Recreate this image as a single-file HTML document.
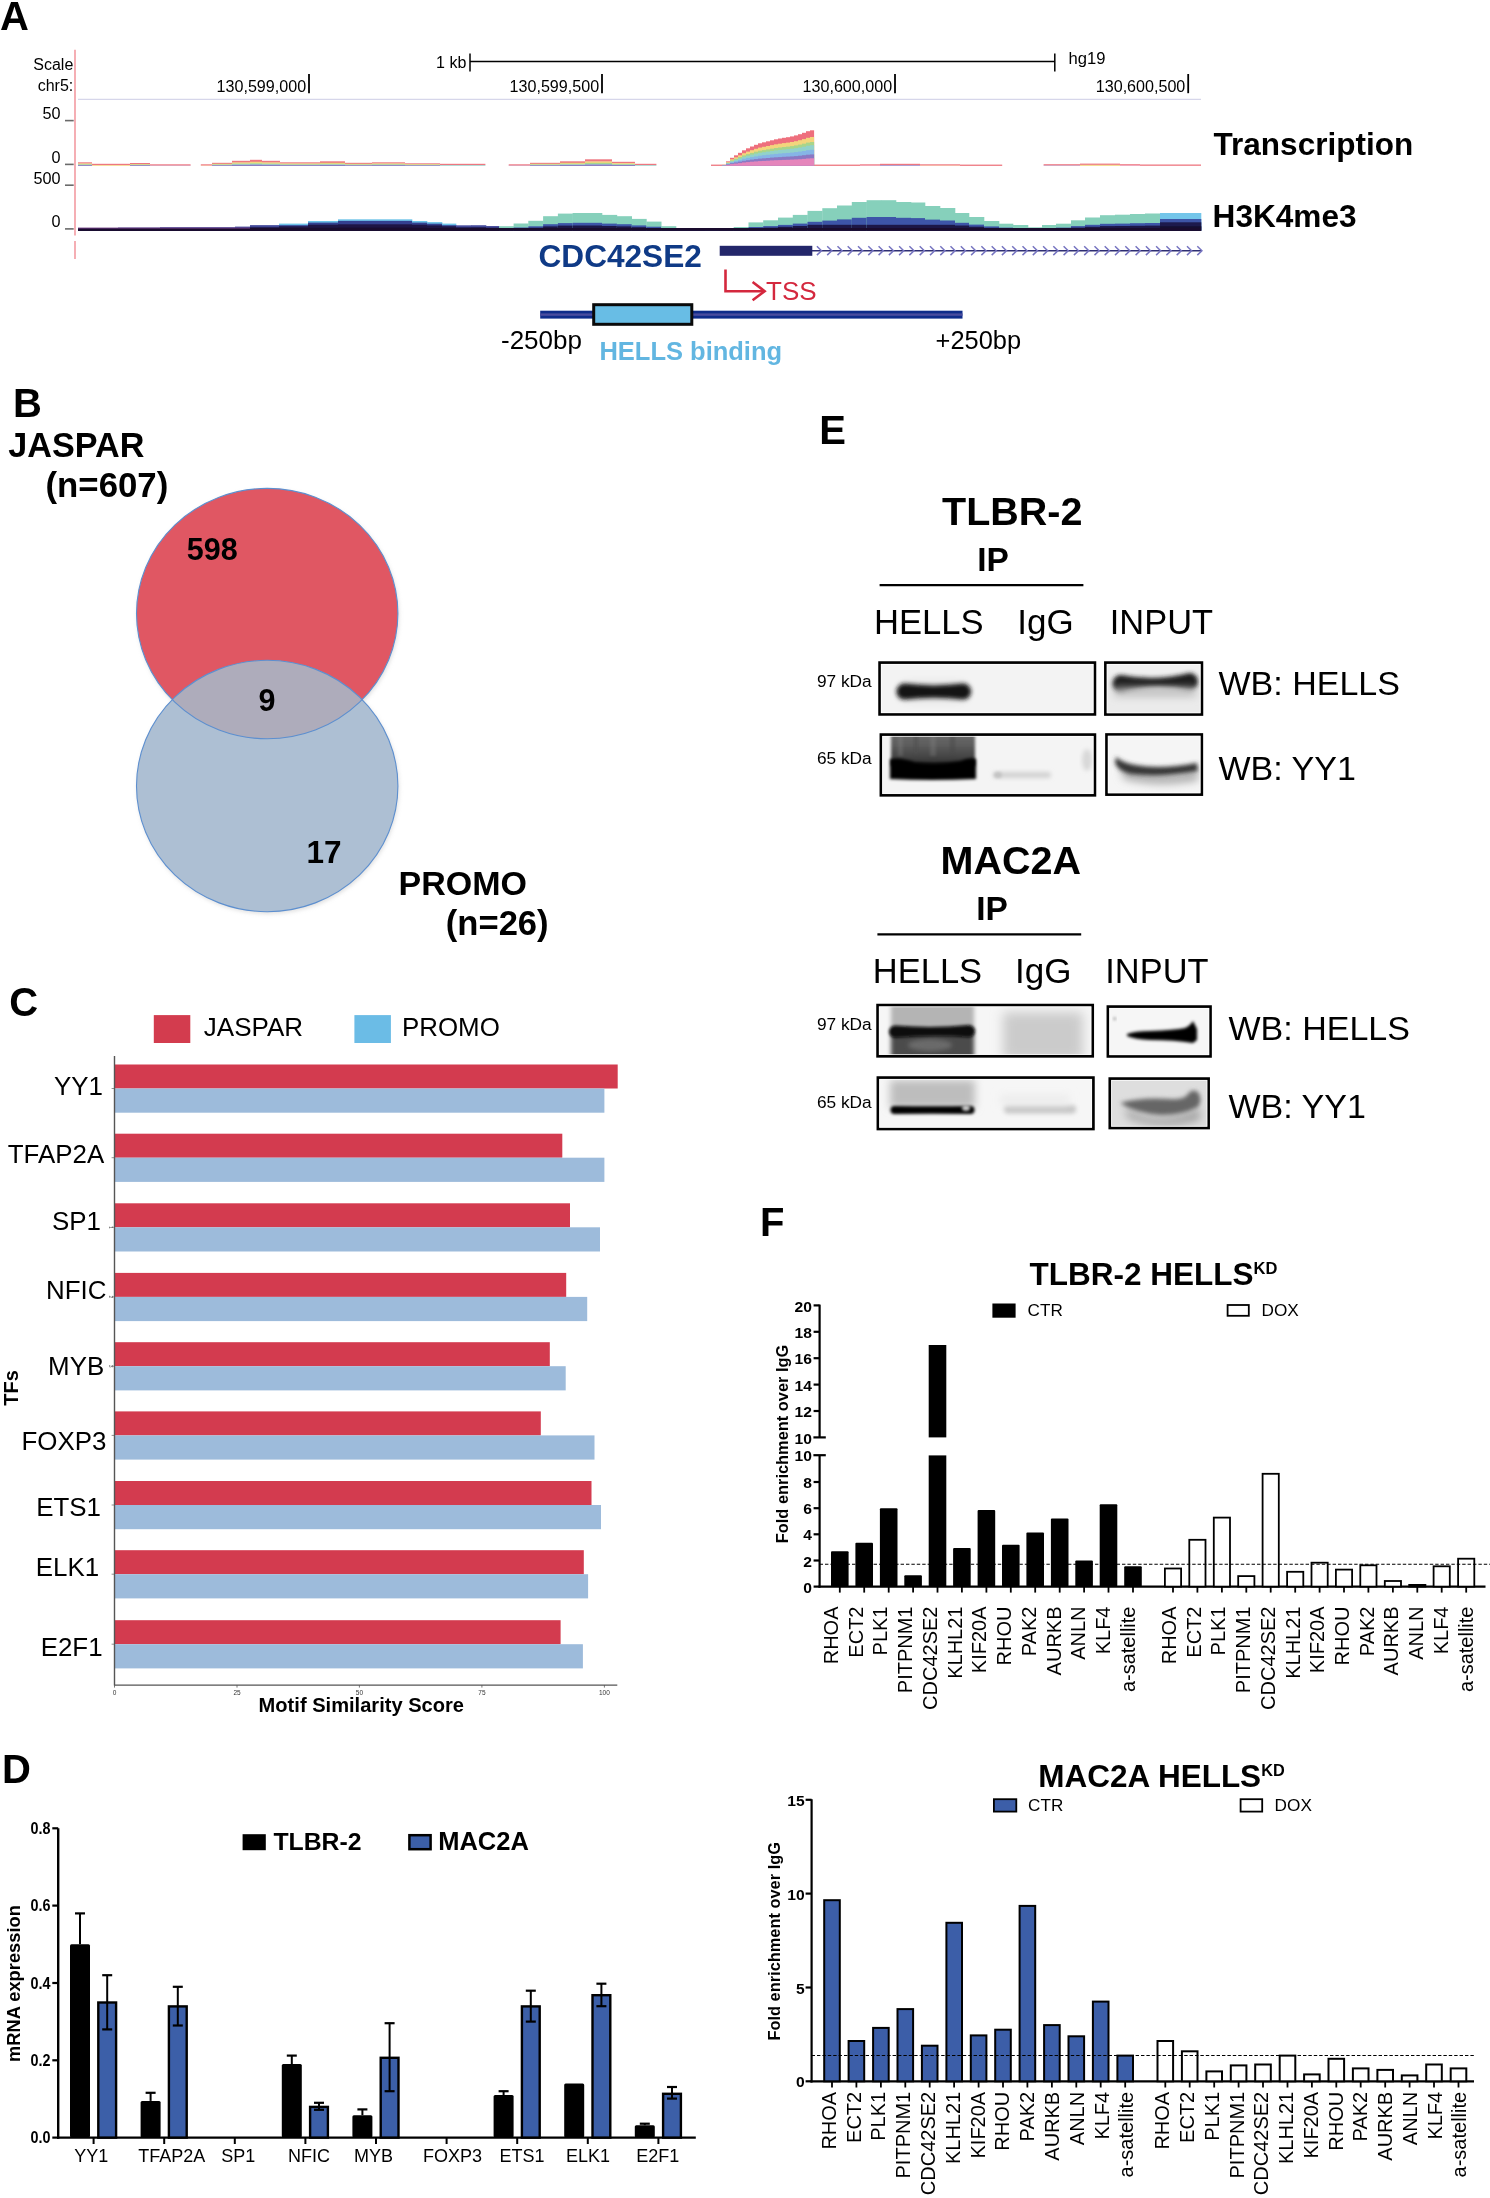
<!DOCTYPE html>
<html><head><meta charset="utf-8"><style>
html,body{margin:0;padding:0;background:#fff;}
svg{display:block;will-change:transform;}
text{font-family:"Liberation Sans",sans-serif;}
</style></head><body>
<svg width="1490" height="2198" viewBox="0 0 1490 2198">
<rect x="0" y="0" width="1490" height="2198" fill="#fff"/>
<text x="0.0" y="29.6" font-size="40" font-weight="bold" text-anchor="start" fill="#000" >A</text>
<line x1="75.0" y1="49.7" x2="75.0" y2="235.5" stroke="#f4a6ac" stroke-width="1.8" />
<line x1="75.0" y1="241.1" x2="75.0" y2="258.9" stroke="#f4a6ac" stroke-width="1.8" />
<text x="73.3" y="69.8" font-size="16" text-anchor="end" fill="#000" >Scale</text>
<text x="73.3" y="90.8" font-size="16" text-anchor="end" fill="#000" >chr5:</text>
<text x="466.3" y="67.7" font-size="16" text-anchor="end" fill="#000" >1 kb</text>
<line x1="470.0" y1="61.5" x2="1054.8" y2="61.5" stroke="#000" stroke-width="1.4" />
<line x1="470.0" y1="53.4" x2="470.0" y2="71.6" stroke="#000" stroke-width="1.5" />
<line x1="1054.8" y1="53.4" x2="1054.8" y2="71.6" stroke="#000" stroke-width="1.5" />
<text x="1068.6" y="64.2" font-size="16.6" text-anchor="start" fill="#000" >hg19</text>
<text x="306.1" y="91.8" font-size="16.1" text-anchor="end" fill="#000" >130,599,000</text>
<line x1="309.0" y1="74.0" x2="309.0" y2="93.2" stroke="#000" stroke-width="1.8" />
<text x="599.1" y="91.8" font-size="16.1" text-anchor="end" fill="#000" >130,599,500</text>
<line x1="602.0" y1="74.0" x2="602.0" y2="93.2" stroke="#000" stroke-width="1.8" />
<text x="892.1" y="91.8" font-size="16.1" text-anchor="end" fill="#000" >130,600,000</text>
<line x1="895.0" y1="74.0" x2="895.0" y2="93.2" stroke="#000" stroke-width="1.8" />
<text x="1185.3" y="91.8" font-size="16.1" text-anchor="end" fill="#000" >130,600,500</text>
<line x1="1188.2" y1="74.0" x2="1188.2" y2="93.2" stroke="#000" stroke-width="1.8" />
<line x1="78.0" y1="99.4" x2="1201.0" y2="99.4" stroke="#d6d6ea" stroke-width="1.3" />
<text x="60.6" y="119.3" font-size="16.2" text-anchor="end" fill="#000" >50</text>
<text x="60.6" y="162.9" font-size="16.2" text-anchor="end" fill="#000" >0</text>
<text x="60.6" y="183.7" font-size="16.2" text-anchor="end" fill="#000" >500</text>
<text x="60.6" y="227.0" font-size="16.2" text-anchor="end" fill="#000" >0</text>
<line x1="65.0" y1="120.6" x2="73.7" y2="120.6" stroke="#6a6a6a" stroke-width="1.6" />
<line x1="65.0" y1="164.4" x2="73.7" y2="164.4" stroke="#6a6a6a" stroke-width="1.6" />
<line x1="65.0" y1="185.2" x2="73.7" y2="185.2" stroke="#6a6a6a" stroke-width="1.6" />
<line x1="65.0" y1="228.9" x2="73.7" y2="228.9" stroke="#6a6a6a" stroke-width="1.6" />
<rect x="78.0" y="162.3" width="14.0" height="1.4" fill="#ee7780" />
<rect x="78.0" y="163.5" width="14.0" height="1.0" fill="#f1d67c" />
<rect x="78.0" y="164.3" width="14.0" height="0.7" fill="#a9d58a" />
<rect x="78.0" y="164.8" width="14.0" height="0.6" fill="#92d2ca" />
<rect x="78.0" y="165.1" width="14.0" height="0.9" fill="#8d7fc4" />
<rect x="92.0" y="163.8" width="38.0" height="1.3" fill="#ee7780" />
<rect x="92.0" y="165.1" width="38.0" height="0.7" fill="#f1d67c" />
<rect x="130.0" y="163.0" width="20.0" height="1.2" fill="#ee7780" />
<rect x="130.0" y="164.0" width="20.0" height="0.8" fill="#f1d67c" />
<rect x="130.0" y="164.6" width="20.0" height="0.6" fill="#a9d58a" />
<rect x="130.0" y="165.0" width="20.0" height="0.5" fill="#92d2ca" />
<rect x="130.0" y="165.2" width="20.0" height="0.8" fill="#8d7fc4" />
<rect x="150.0" y="164.3" width="40.6" height="1.3" fill="#ee7780" />
<rect x="150.0" y="165.6" width="40.6" height="0.2" fill="#8d7fc4" />
<rect x="200.8" y="164.3" width="11.2" height="1.3" fill="#ee7780" />
<rect x="200.8" y="165.6" width="11.2" height="0.2" fill="#f1d67c" />
<rect x="212.0" y="162.8" width="20.0" height="1.2" fill="#ee7780" />
<rect x="212.0" y="163.8" width="20.0" height="0.9" fill="#f1d67c" />
<rect x="212.0" y="164.5" width="20.0" height="0.6" fill="#a9d58a" />
<rect x="212.0" y="164.9" width="20.0" height="0.5" fill="#92d2ca" />
<rect x="212.0" y="165.2" width="20.0" height="0.8" fill="#8d7fc4" />
<rect x="232.0" y="160.8" width="18.0" height="1.9" fill="#ee7780" />
<rect x="232.0" y="162.5" width="18.0" height="1.3" fill="#f1d67c" />
<rect x="232.0" y="163.6" width="18.0" height="0.9" fill="#a9d58a" />
<rect x="232.0" y="164.3" width="18.0" height="0.7" fill="#92d2ca" />
<rect x="232.0" y="164.8" width="18.0" height="1.2" fill="#8d7fc4" />
<rect x="250.0" y="159.8" width="12.0" height="2.2" fill="#ee7780" />
<rect x="250.0" y="161.8" width="12.0" height="1.5" fill="#f1d67c" />
<rect x="250.0" y="163.2" width="12.0" height="1.0" fill="#a9d58a" />
<rect x="250.0" y="164.0" width="12.0" height="0.8" fill="#92d2ca" />
<rect x="250.0" y="164.6" width="12.0" height="1.4" fill="#8d7fc4" />
<rect x="262.0" y="160.8" width="18.0" height="1.9" fill="#ee7780" />
<rect x="262.0" y="162.5" width="18.0" height="1.3" fill="#f1d67c" />
<rect x="262.0" y="163.6" width="18.0" height="0.9" fill="#a9d58a" />
<rect x="262.0" y="164.3" width="18.0" height="0.7" fill="#92d2ca" />
<rect x="262.0" y="164.8" width="18.0" height="1.2" fill="#8d7fc4" />
<rect x="280.0" y="162.3" width="40.0" height="1.4" fill="#ee7780" />
<rect x="280.0" y="163.5" width="40.0" height="1.0" fill="#f1d67c" />
<rect x="280.0" y="164.3" width="40.0" height="0.7" fill="#a9d58a" />
<rect x="280.0" y="164.8" width="40.0" height="0.6" fill="#92d2ca" />
<rect x="280.0" y="165.1" width="40.0" height="0.9" fill="#8d7fc4" />
<rect x="320.0" y="161.3" width="25.0" height="1.7" fill="#ee7780" />
<rect x="320.0" y="162.8" width="25.0" height="1.2" fill="#f1d67c" />
<rect x="320.0" y="163.8" width="25.0" height="0.8" fill="#a9d58a" />
<rect x="320.0" y="164.5" width="25.0" height="0.7" fill="#92d2ca" />
<rect x="320.0" y="164.9" width="25.0" height="1.1" fill="#8d7fc4" />
<rect x="345.0" y="162.8" width="27.0" height="1.2" fill="#ee7780" />
<rect x="345.0" y="163.8" width="27.0" height="0.9" fill="#f1d67c" />
<rect x="345.0" y="164.5" width="27.0" height="0.6" fill="#a9d58a" />
<rect x="345.0" y="164.9" width="27.0" height="0.5" fill="#92d2ca" />
<rect x="345.0" y="165.2" width="27.0" height="0.8" fill="#8d7fc4" />
<rect x="372.0" y="162.3" width="33.0" height="1.4" fill="#ee7780" />
<rect x="372.0" y="163.5" width="33.0" height="1.0" fill="#f1d67c" />
<rect x="372.0" y="164.3" width="33.0" height="0.7" fill="#a9d58a" />
<rect x="372.0" y="164.8" width="33.0" height="0.6" fill="#92d2ca" />
<rect x="372.0" y="165.1" width="33.0" height="0.9" fill="#8d7fc4" />
<rect x="405.0" y="163.3" width="35.0" height="1.1" fill="#ee7780" />
<rect x="405.0" y="164.2" width="35.0" height="0.8" fill="#f1d67c" />
<rect x="405.0" y="164.7" width="35.0" height="0.6" fill="#a9d58a" />
<rect x="405.0" y="165.1" width="35.0" height="0.5" fill="#92d2ca" />
<rect x="405.0" y="165.3" width="35.0" height="0.7" fill="#8d7fc4" />
<rect x="440.0" y="163.8" width="45.4" height="1.3" fill="#ee7780" />
<rect x="440.0" y="165.1" width="45.4" height="0.7" fill="#92d2ca" />
<rect x="508.7" y="164.3" width="21.3" height="1.3" fill="#ee7780" />
<rect x="508.7" y="165.6" width="21.3" height="0.2" fill="#8d7fc4" />
<rect x="530.0" y="162.8" width="30.0" height="1.2" fill="#ee7780" />
<rect x="530.0" y="163.8" width="30.0" height="0.9" fill="#f1d67c" />
<rect x="530.0" y="164.5" width="30.0" height="0.6" fill="#a9d58a" />
<rect x="530.0" y="164.9" width="30.0" height="0.5" fill="#92d2ca" />
<rect x="530.0" y="165.2" width="30.0" height="0.8" fill="#8d7fc4" />
<rect x="560.0" y="161.3" width="25.0" height="1.7" fill="#ee7780" />
<rect x="560.0" y="162.8" width="25.0" height="1.2" fill="#f1d67c" />
<rect x="560.0" y="163.8" width="25.0" height="0.8" fill="#a9d58a" />
<rect x="560.0" y="164.5" width="25.0" height="0.7" fill="#92d2ca" />
<rect x="560.0" y="164.9" width="25.0" height="1.1" fill="#8d7fc4" />
<rect x="585.0" y="159.3" width="27.0" height="2.4" fill="#ee7780" />
<rect x="585.0" y="161.5" width="27.0" height="1.6" fill="#f1d67c" />
<rect x="585.0" y="162.9" width="27.0" height="1.1" fill="#a9d58a" />
<rect x="585.0" y="163.9" width="27.0" height="0.9" fill="#92d2ca" />
<rect x="585.0" y="164.5" width="27.0" height="1.5" fill="#8d7fc4" />
<rect x="612.0" y="161.8" width="23.0" height="1.6" fill="#ee7780" />
<rect x="612.0" y="163.2" width="23.0" height="1.1" fill="#f1d67c" />
<rect x="612.0" y="164.0" width="23.0" height="0.8" fill="#a9d58a" />
<rect x="612.0" y="164.6" width="23.0" height="0.6" fill="#92d2ca" />
<rect x="612.0" y="165.0" width="23.0" height="1.0" fill="#8d7fc4" />
<rect x="635.0" y="163.8" width="21.4" height="1.3" fill="#ee7780" />
<rect x="635.0" y="165.1" width="21.4" height="0.7" fill="#92d2ca" />
<rect x="711.0" y="164.6" width="11.0" height="1.3" fill="#ee7780" />
<rect x="814.0" y="164.6" width="46.0" height="1.3" fill="#ee7780" />
<rect x="860.0" y="164.3" width="20.0" height="1.3" fill="#ee7780" />
<rect x="860.0" y="165.6" width="20.0" height="0.2" fill="#e585bb" />
<rect x="880.0" y="163.8" width="40.0" height="1.3" fill="#ee7780" />
<rect x="880.0" y="165.1" width="40.0" height="0.7" fill="#8d7fc4" />
<rect x="920.0" y="164.3" width="40.0" height="1.3" fill="#ee7780" />
<rect x="920.0" y="165.6" width="40.0" height="0.2" fill="#f1d67c" />
<rect x="960.0" y="164.6" width="42.2" height="1.3" fill="#ee7780" />
<rect x="1043.6" y="164.2" width="36.4" height="1.3" fill="#ee7780" />
<rect x="1043.6" y="165.5" width="36.4" height="0.3" fill="#8d7fc4" />
<rect x="1080.0" y="163.6" width="40.0" height="1.3" fill="#ee7780" />
<rect x="1080.0" y="164.9" width="40.0" height="0.9" fill="#f1d67c" />
<rect x="1120.0" y="164.2" width="20.0" height="1.3" fill="#ee7780" />
<rect x="1120.0" y="165.5" width="20.0" height="0.3" fill="#e585bb" />
<rect x="1140.0" y="164.5" width="61.0" height="1.3" fill="#ee7780" />
<rect x="722.0" y="164.6" width="4.3" height="1.2" fill="#ee6f7d" />
<rect x="722.0" y="164.8" width="4.3" height="1.0" fill="#f3d57d" />
<rect x="722.0" y="165.0" width="4.3" height="0.8" fill="#a9d58a" />
<rect x="722.0" y="165.1" width="4.3" height="0.7" fill="#92d2ca" />
<rect x="722.0" y="165.3" width="4.3" height="0.5" fill="#86b5e6" />
<rect x="722.0" y="165.4" width="4.3" height="0.4" fill="#8b78c3" />
<rect x="722.0" y="165.5" width="4.3" height="0.3" fill="#e585bb" />
<rect x="726.0" y="161.3" width="4.3" height="4.5" fill="#ee6f7d" />
<rect x="726.0" y="162.2" width="4.3" height="3.6" fill="#f3d57d" />
<rect x="726.0" y="162.8" width="4.3" height="3.0" fill="#a9d58a" />
<rect x="726.0" y="163.2" width="4.3" height="2.6" fill="#92d2ca" />
<rect x="726.0" y="163.8" width="4.3" height="2.0" fill="#86b5e6" />
<rect x="726.0" y="164.4" width="4.3" height="1.4" fill="#8b78c3" />
<rect x="726.0" y="164.9" width="4.3" height="0.9" fill="#e585bb" />
<rect x="730.0" y="157.8" width="4.3" height="8.0" fill="#ee6f7d" />
<rect x="730.0" y="159.3" width="4.3" height="6.5" fill="#f3d57d" />
<rect x="730.0" y="160.4" width="4.3" height="5.4" fill="#a9d58a" />
<rect x="730.0" y="161.2" width="4.3" height="4.6" fill="#92d2ca" />
<rect x="730.0" y="162.2" width="4.3" height="3.6" fill="#86b5e6" />
<rect x="730.0" y="163.2" width="4.3" height="2.6" fill="#8b78c3" />
<rect x="730.0" y="164.1" width="4.3" height="1.7" fill="#e585bb" />
<rect x="734.0" y="155.3" width="4.3" height="10.5" fill="#ee6f7d" />
<rect x="734.0" y="157.3" width="4.3" height="8.5" fill="#f3d57d" />
<rect x="734.0" y="158.8" width="4.3" height="7.0" fill="#a9d58a" />
<rect x="734.0" y="159.7" width="4.3" height="6.1" fill="#92d2ca" />
<rect x="734.0" y="161.1" width="4.3" height="4.7" fill="#86b5e6" />
<rect x="734.0" y="162.4" width="4.3" height="3.4" fill="#8b78c3" />
<rect x="734.0" y="163.6" width="4.3" height="2.2" fill="#e585bb" />
<rect x="738.0" y="152.8" width="4.3" height="13.0" fill="#ee6f7d" />
<rect x="738.0" y="155.3" width="4.3" height="10.5" fill="#f3d57d" />
<rect x="738.0" y="157.1" width="4.3" height="8.7" fill="#a9d58a" />
<rect x="738.0" y="158.3" width="4.3" height="7.5" fill="#92d2ca" />
<rect x="738.0" y="160.0" width="4.3" height="5.8" fill="#86b5e6" />
<rect x="738.0" y="161.6" width="4.3" height="4.2" fill="#8b78c3" />
<rect x="738.0" y="163.1" width="4.3" height="2.7" fill="#e585bb" />
<rect x="742.0" y="150.3" width="4.3" height="15.5" fill="#ee6f7d" />
<rect x="742.0" y="153.2" width="4.3" height="12.6" fill="#f3d57d" />
<rect x="742.0" y="155.4" width="4.3" height="10.4" fill="#a9d58a" />
<rect x="742.0" y="156.8" width="4.3" height="9.0" fill="#92d2ca" />
<rect x="742.0" y="158.8" width="4.3" height="7.0" fill="#86b5e6" />
<rect x="742.0" y="160.8" width="4.3" height="5.0" fill="#8b78c3" />
<rect x="742.0" y="162.5" width="4.3" height="3.3" fill="#e585bb" />
<rect x="746.0" y="148.3" width="4.3" height="17.5" fill="#ee6f7d" />
<rect x="746.0" y="151.6" width="4.3" height="14.2" fill="#f3d57d" />
<rect x="746.0" y="154.1" width="4.3" height="11.7" fill="#a9d58a" />
<rect x="746.0" y="155.7" width="4.3" height="10.2" fill="#92d2ca" />
<rect x="746.0" y="157.9" width="4.3" height="7.9" fill="#86b5e6" />
<rect x="746.0" y="160.2" width="4.3" height="5.6" fill="#8b78c3" />
<rect x="746.0" y="162.1" width="4.3" height="3.7" fill="#e585bb" />
<rect x="750.0" y="146.5" width="4.3" height="19.3" fill="#ee6f7d" />
<rect x="750.0" y="150.2" width="4.3" height="15.6" fill="#f3d57d" />
<rect x="750.0" y="152.9" width="4.3" height="12.9" fill="#a9d58a" />
<rect x="750.0" y="154.6" width="4.3" height="11.2" fill="#92d2ca" />
<rect x="750.0" y="157.1" width="4.3" height="8.7" fill="#86b5e6" />
<rect x="750.0" y="159.6" width="4.3" height="6.2" fill="#8b78c3" />
<rect x="750.0" y="161.7" width="4.3" height="4.1" fill="#e585bb" />
<rect x="754.0" y="144.8" width="4.3" height="21.0" fill="#ee6f7d" />
<rect x="754.0" y="148.8" width="4.3" height="17.0" fill="#f3d57d" />
<rect x="754.0" y="151.7" width="4.3" height="14.1" fill="#a9d58a" />
<rect x="754.0" y="153.6" width="4.3" height="12.2" fill="#92d2ca" />
<rect x="754.0" y="156.4" width="4.3" height="9.4" fill="#86b5e6" />
<rect x="754.0" y="159.1" width="4.3" height="6.7" fill="#8b78c3" />
<rect x="754.0" y="161.4" width="4.3" height="4.4" fill="#e585bb" />
<rect x="758.0" y="143.3" width="4.3" height="22.5" fill="#ee6f7d" />
<rect x="758.0" y="147.6" width="4.3" height="18.2" fill="#f3d57d" />
<rect x="758.0" y="150.7" width="4.3" height="15.1" fill="#a9d58a" />
<rect x="758.0" y="152.8" width="4.3" height="13.1" fill="#92d2ca" />
<rect x="758.0" y="155.7" width="4.3" height="10.1" fill="#86b5e6" />
<rect x="758.0" y="158.6" width="4.3" height="7.2" fill="#8b78c3" />
<rect x="758.0" y="161.1" width="4.3" height="4.7" fill="#e585bb" />
<rect x="762.0" y="142.3" width="4.3" height="23.5" fill="#ee6f7d" />
<rect x="762.0" y="146.8" width="4.3" height="19.0" fill="#f3d57d" />
<rect x="762.0" y="150.1" width="4.3" height="15.7" fill="#a9d58a" />
<rect x="762.0" y="152.2" width="4.3" height="13.6" fill="#92d2ca" />
<rect x="762.0" y="155.2" width="4.3" height="10.6" fill="#86b5e6" />
<rect x="762.0" y="158.3" width="4.3" height="7.5" fill="#8b78c3" />
<rect x="762.0" y="160.9" width="4.3" height="4.9" fill="#e585bb" />
<rect x="766.0" y="141.3" width="4.3" height="24.5" fill="#ee6f7d" />
<rect x="766.0" y="146.0" width="4.3" height="19.8" fill="#f3d57d" />
<rect x="766.0" y="149.4" width="4.3" height="16.4" fill="#a9d58a" />
<rect x="766.0" y="151.6" width="4.3" height="14.2" fill="#92d2ca" />
<rect x="766.0" y="154.8" width="4.3" height="11.0" fill="#86b5e6" />
<rect x="766.0" y="158.0" width="4.3" height="7.8" fill="#8b78c3" />
<rect x="766.0" y="160.7" width="4.3" height="5.1" fill="#e585bb" />
<rect x="770.0" y="140.3" width="4.3" height="25.5" fill="#ee6f7d" />
<rect x="770.0" y="145.1" width="4.3" height="20.7" fill="#f3d57d" />
<rect x="770.0" y="148.7" width="4.3" height="17.1" fill="#a9d58a" />
<rect x="770.0" y="151.0" width="4.3" height="14.8" fill="#92d2ca" />
<rect x="770.0" y="154.3" width="4.3" height="11.5" fill="#86b5e6" />
<rect x="770.0" y="157.6" width="4.3" height="8.2" fill="#8b78c3" />
<rect x="770.0" y="160.4" width="4.3" height="5.4" fill="#e585bb" />
<rect x="774.0" y="139.3" width="4.3" height="26.5" fill="#ee6f7d" />
<rect x="774.0" y="144.3" width="4.3" height="21.5" fill="#f3d57d" />
<rect x="774.0" y="148.0" width="4.3" height="17.8" fill="#a9d58a" />
<rect x="774.0" y="150.4" width="4.3" height="15.4" fill="#92d2ca" />
<rect x="774.0" y="153.9" width="4.3" height="11.9" fill="#86b5e6" />
<rect x="774.0" y="157.3" width="4.3" height="8.5" fill="#8b78c3" />
<rect x="774.0" y="160.2" width="4.3" height="5.6" fill="#e585bb" />
<rect x="778.0" y="138.5" width="4.3" height="27.3" fill="#ee6f7d" />
<rect x="778.0" y="143.7" width="4.3" height="22.1" fill="#f3d57d" />
<rect x="778.0" y="147.5" width="4.3" height="18.3" fill="#a9d58a" />
<rect x="778.0" y="150.0" width="4.3" height="15.8" fill="#92d2ca" />
<rect x="778.0" y="153.5" width="4.3" height="12.3" fill="#86b5e6" />
<rect x="778.0" y="157.1" width="4.3" height="8.7" fill="#8b78c3" />
<rect x="778.0" y="160.1" width="4.3" height="5.7" fill="#e585bb" />
<rect x="782.0" y="137.8" width="4.3" height="28.0" fill="#ee6f7d" />
<rect x="782.0" y="143.1" width="4.3" height="22.7" fill="#f3d57d" />
<rect x="782.0" y="147.0" width="4.3" height="18.8" fill="#a9d58a" />
<rect x="782.0" y="149.6" width="4.3" height="16.2" fill="#92d2ca" />
<rect x="782.0" y="153.2" width="4.3" height="12.6" fill="#86b5e6" />
<rect x="782.0" y="156.8" width="4.3" height="9.0" fill="#8b78c3" />
<rect x="782.0" y="159.9" width="4.3" height="5.9" fill="#e585bb" />
<rect x="786.0" y="137.2" width="4.3" height="28.6" fill="#ee6f7d" />
<rect x="786.0" y="142.6" width="4.3" height="23.2" fill="#f3d57d" />
<rect x="786.0" y="146.6" width="4.3" height="19.2" fill="#a9d58a" />
<rect x="786.0" y="149.2" width="4.3" height="16.6" fill="#92d2ca" />
<rect x="786.0" y="152.9" width="4.3" height="12.9" fill="#86b5e6" />
<rect x="786.0" y="156.6" width="4.3" height="9.2" fill="#8b78c3" />
<rect x="786.0" y="159.8" width="4.3" height="6.0" fill="#e585bb" />
<rect x="790.0" y="136.4" width="4.3" height="29.4" fill="#ee6f7d" />
<rect x="790.0" y="142.0" width="4.3" height="23.8" fill="#f3d57d" />
<rect x="790.0" y="146.1" width="4.3" height="19.7" fill="#a9d58a" />
<rect x="790.0" y="148.7" width="4.3" height="17.1" fill="#92d2ca" />
<rect x="790.0" y="152.6" width="4.3" height="13.2" fill="#86b5e6" />
<rect x="790.0" y="156.4" width="4.3" height="9.4" fill="#8b78c3" />
<rect x="790.0" y="159.6" width="4.3" height="6.2" fill="#e585bb" />
<rect x="794.0" y="135.4" width="4.3" height="30.4" fill="#ee6f7d" />
<rect x="794.0" y="141.2" width="4.3" height="24.6" fill="#f3d57d" />
<rect x="794.0" y="145.4" width="4.3" height="20.4" fill="#a9d58a" />
<rect x="794.0" y="148.2" width="4.3" height="17.6" fill="#92d2ca" />
<rect x="794.0" y="152.1" width="4.3" height="13.7" fill="#86b5e6" />
<rect x="794.0" y="156.1" width="4.3" height="9.7" fill="#8b78c3" />
<rect x="794.0" y="159.4" width="4.3" height="6.4" fill="#e585bb" />
<rect x="798.0" y="134.2" width="4.3" height="31.6" fill="#ee6f7d" />
<rect x="798.0" y="140.2" width="4.3" height="25.6" fill="#f3d57d" />
<rect x="798.0" y="144.6" width="4.3" height="21.2" fill="#a9d58a" />
<rect x="798.0" y="147.5" width="4.3" height="18.3" fill="#92d2ca" />
<rect x="798.0" y="151.6" width="4.3" height="14.2" fill="#86b5e6" />
<rect x="798.0" y="155.7" width="4.3" height="10.1" fill="#8b78c3" />
<rect x="798.0" y="159.2" width="4.3" height="6.6" fill="#e585bb" />
<rect x="802.0" y="132.8" width="4.3" height="33.0" fill="#ee6f7d" />
<rect x="802.0" y="139.1" width="4.3" height="26.7" fill="#f3d57d" />
<rect x="802.0" y="143.7" width="4.3" height="22.1" fill="#a9d58a" />
<rect x="802.0" y="146.7" width="4.3" height="19.1" fill="#92d2ca" />
<rect x="802.0" y="151.0" width="4.3" height="14.8" fill="#86b5e6" />
<rect x="802.0" y="155.2" width="4.3" height="10.6" fill="#8b78c3" />
<rect x="802.0" y="158.9" width="4.3" height="6.9" fill="#e585bb" />
<rect x="806.0" y="131.2" width="4.3" height="34.6" fill="#ee6f7d" />
<rect x="806.0" y="137.8" width="4.3" height="28.0" fill="#f3d57d" />
<rect x="806.0" y="142.6" width="4.3" height="23.2" fill="#a9d58a" />
<rect x="806.0" y="145.7" width="4.3" height="20.1" fill="#92d2ca" />
<rect x="806.0" y="150.2" width="4.3" height="15.6" fill="#86b5e6" />
<rect x="806.0" y="154.7" width="4.3" height="11.1" fill="#8b78c3" />
<rect x="806.0" y="158.5" width="4.3" height="7.3" fill="#e585bb" />
<rect x="810.0" y="130.3" width="4.1" height="35.5" fill="#ee6f7d" />
<rect x="810.0" y="137.0" width="4.1" height="28.8" fill="#f3d57d" />
<rect x="810.0" y="142.0" width="4.1" height="23.8" fill="#a9d58a" />
<rect x="810.0" y="145.2" width="4.1" height="20.6" fill="#92d2ca" />
<rect x="810.0" y="149.8" width="4.1" height="16.0" fill="#86b5e6" />
<rect x="810.0" y="154.4" width="4.1" height="11.4" fill="#8b78c3" />
<rect x="810.0" y="158.3" width="4.1" height="7.5" fill="#e585bb" />
<rect x="78.0" y="228.6" width="40.3" height="2.2" fill="#4a4f9e" />
<rect x="78.0" y="229.3" width="40.3" height="1.5" fill="#34408f" />
<rect x="78.0" y="229.4" width="40.3" height="1.4" fill="#1e1544" />
<rect x="78.0" y="230.1" width="40.3" height="0.7" fill="#140d30" />
<rect x="118.0" y="227.6" width="42.3" height="3.2" fill="#4a4f9e" />
<rect x="118.0" y="228.6" width="42.3" height="2.2" fill="#34408f" />
<rect x="118.0" y="228.8" width="42.3" height="2.0" fill="#1e1544" />
<rect x="118.0" y="229.8" width="42.3" height="1.0" fill="#140d30" />
<rect x="160.0" y="227.2" width="75.3" height="3.6" fill="#4a4f9e" />
<rect x="160.0" y="228.3" width="75.3" height="2.5" fill="#34408f" />
<rect x="160.0" y="228.6" width="75.3" height="2.2" fill="#1e1544" />
<rect x="160.0" y="229.7" width="75.3" height="1.1" fill="#140d30" />
<rect x="235.0" y="226.6" width="15.3" height="4.2" fill="#4a4f9e" />
<rect x="235.0" y="227.9" width="15.3" height="2.9" fill="#34408f" />
<rect x="235.0" y="228.2" width="15.3" height="2.6" fill="#1e1544" />
<rect x="235.0" y="229.5" width="15.3" height="1.3" fill="#140d30" />
<rect x="250.0" y="225.1" width="29.3" height="5.7" fill="#4a4f9e" />
<rect x="250.0" y="226.7" width="29.3" height="4.1" fill="#34408f" />
<rect x="250.0" y="227.3" width="29.3" height="3.5" fill="#1e1544" />
<rect x="250.0" y="229.0" width="29.3" height="1.8" fill="#140d30" />
<rect x="279.0" y="223.6" width="29.3" height="7.2" fill="#6ec3e8" />
<rect x="279.0" y="225.2" width="29.3" height="5.6" fill="#34408f" />
<rect x="279.0" y="226.3" width="29.3" height="4.5" fill="#1e1544" />
<rect x="279.0" y="228.6" width="29.3" height="2.2" fill="#140d30" />
<rect x="308.0" y="221.0" width="30.3" height="9.8" fill="#6ec3e8" />
<rect x="308.0" y="222.6" width="30.3" height="8.2" fill="#34408f" />
<rect x="308.0" y="224.7" width="30.3" height="6.1" fill="#1e1544" />
<rect x="308.0" y="227.8" width="30.3" height="3.0" fill="#140d30" />
<rect x="338.0" y="219.3" width="74.3" height="11.5" fill="#6ec3e8" />
<rect x="338.0" y="220.9" width="74.3" height="9.9" fill="#34408f" />
<rect x="338.0" y="224.3" width="74.3" height="6.5" fill="#1e1544" />
<rect x="338.0" y="227.6" width="74.3" height="3.2" fill="#140d30" />
<rect x="412.0" y="221.0" width="15.3" height="9.8" fill="#6ec3e8" />
<rect x="412.0" y="222.6" width="15.3" height="8.2" fill="#34408f" />
<rect x="412.0" y="224.7" width="15.3" height="6.1" fill="#1e1544" />
<rect x="412.0" y="227.8" width="15.3" height="3.0" fill="#140d30" />
<rect x="427.0" y="222.1" width="15.3" height="8.7" fill="#6ec3e8" />
<rect x="427.0" y="223.7" width="15.3" height="7.1" fill="#34408f" />
<rect x="427.0" y="225.4" width="15.3" height="5.4" fill="#1e1544" />
<rect x="427.0" y="228.1" width="15.3" height="2.7" fill="#140d30" />
<rect x="442.0" y="223.6" width="14.3" height="7.2" fill="#6ec3e8" />
<rect x="442.0" y="225.2" width="14.3" height="5.6" fill="#34408f" />
<rect x="442.0" y="226.3" width="14.3" height="4.5" fill="#1e1544" />
<rect x="442.0" y="228.6" width="14.3" height="2.2" fill="#140d30" />
<rect x="456.0" y="225.3" width="15.3" height="5.5" fill="#4a4f9e" />
<rect x="456.0" y="226.9" width="15.3" height="3.9" fill="#34408f" />
<rect x="456.0" y="227.4" width="15.3" height="3.4" fill="#1e1544" />
<rect x="456.0" y="229.1" width="15.3" height="1.7" fill="#140d30" />
<rect x="471.0" y="225.2" width="15.3" height="5.6" fill="#4a4f9e" />
<rect x="471.0" y="226.8" width="15.3" height="4.0" fill="#34408f" />
<rect x="471.0" y="227.3" width="15.3" height="3.5" fill="#1e1544" />
<rect x="471.0" y="229.1" width="15.3" height="1.7" fill="#140d30" />
<rect x="486.0" y="226.0" width="13.3" height="4.8" fill="#4a4f9e" />
<rect x="486.0" y="227.4" width="13.3" height="3.4" fill="#34408f" />
<rect x="486.0" y="227.8" width="13.3" height="3.0" fill="#1e1544" />
<rect x="486.0" y="229.3" width="13.3" height="1.5" fill="#140d30" />
<rect x="499.0" y="226.2" width="14.9" height="4.6" fill="#86d0bb" />
<rect x="499.0" y="228.7" width="14.9" height="2.1" fill="#3d55a8" />
<rect x="499.0" y="229.4" width="14.9" height="1.4" fill="#1c1747" />
<rect x="513.6" y="223.5" width="15.0" height="7.3" fill="#86d0bb" />
<rect x="513.6" y="227.5" width="15.0" height="3.3" fill="#3d55a8" />
<rect x="513.6" y="228.6" width="15.0" height="2.2" fill="#1c1747" />
<rect x="528.3" y="220.8" width="15.1" height="10.0" fill="#86d0bb" />
<rect x="528.3" y="226.3" width="15.1" height="4.5" fill="#3d55a8" />
<rect x="528.3" y="227.8" width="15.1" height="3.0" fill="#1c1747" />
<rect x="543.1" y="216.2" width="15.1" height="14.6" fill="#86d0bb" />
<rect x="543.1" y="224.2" width="15.1" height="6.6" fill="#3d55a8" />
<rect x="543.1" y="226.4" width="15.1" height="4.4" fill="#1c1747" />
<rect x="557.9" y="213.6" width="15.0" height="17.2" fill="#86d0bb" />
<rect x="557.9" y="223.1" width="15.0" height="7.7" fill="#3d55a8" />
<rect x="557.9" y="225.6" width="15.0" height="5.2" fill="#1c1747" />
<rect x="572.6" y="213.0" width="14.7" height="17.8" fill="#86d0bb" />
<rect x="572.6" y="222.8" width="14.7" height="8.0" fill="#3d55a8" />
<rect x="572.6" y="225.5" width="14.7" height="5.3" fill="#1c1747" />
<rect x="587.0" y="213.0" width="15.3" height="17.8" fill="#86d0bb" />
<rect x="587.0" y="222.8" width="15.3" height="8.0" fill="#3d55a8" />
<rect x="587.0" y="225.5" width="15.3" height="5.3" fill="#1c1747" />
<rect x="602.0" y="214.9" width="15.2" height="15.9" fill="#86d0bb" />
<rect x="602.0" y="223.6" width="15.2" height="7.2" fill="#3d55a8" />
<rect x="602.0" y="226.0" width="15.2" height="4.8" fill="#1c1747" />
<rect x="616.9" y="216.2" width="15.1" height="14.6" fill="#86d0bb" />
<rect x="616.9" y="224.2" width="15.1" height="6.6" fill="#3d55a8" />
<rect x="616.9" y="226.4" width="15.1" height="4.4" fill="#1c1747" />
<rect x="631.7" y="218.9" width="15.0" height="11.9" fill="#86d0bb" />
<rect x="631.7" y="225.4" width="15.0" height="5.4" fill="#3d55a8" />
<rect x="631.7" y="227.2" width="15.0" height="3.6" fill="#1c1747" />
<rect x="646.4" y="221.6" width="15.1" height="9.2" fill="#86d0bb" />
<rect x="646.4" y="226.7" width="15.1" height="4.1" fill="#3d55a8" />
<rect x="646.4" y="228.0" width="15.1" height="2.8" fill="#1c1747" />
<rect x="661.2" y="226.2" width="15.1" height="4.6" fill="#86d0bb" />
<rect x="661.2" y="228.7" width="15.1" height="2.1" fill="#3d55a8" />
<rect x="661.2" y="229.4" width="15.1" height="1.4" fill="#1c1747" />
<rect x="676.0" y="228.3" width="29.3" height="2.5" fill="#86d0bb" />
<rect x="676.0" y="229.7" width="29.3" height="1.1" fill="#3d55a8" />
<rect x="676.0" y="230.1" width="29.3" height="0.8" fill="#1c1747" />
<rect x="705.0" y="228.6" width="14.3" height="2.2" fill="#86d0bb" />
<rect x="705.0" y="229.8" width="14.3" height="1.0" fill="#3d55a8" />
<rect x="705.0" y="230.1" width="14.3" height="0.7" fill="#1c1747" />
<rect x="719.0" y="228.3" width="15.0" height="2.5" fill="#86d0bb" />
<rect x="719.0" y="229.7" width="15.0" height="1.1" fill="#3d55a8" />
<rect x="719.0" y="230.1" width="15.0" height="0.8" fill="#1c1747" />
<rect x="733.7" y="227.0" width="15.1" height="3.8" fill="#86d0bb" />
<rect x="733.7" y="229.1" width="15.1" height="1.7" fill="#3d55a8" />
<rect x="733.7" y="229.7" width="15.1" height="1.1" fill="#1c1747" />
<rect x="748.5" y="222.4" width="15.0" height="8.4" fill="#86d0bb" />
<rect x="748.5" y="227.0" width="15.0" height="3.8" fill="#3d55a8" />
<rect x="748.5" y="228.3" width="15.0" height="2.5" fill="#1c1747" />
<rect x="763.2" y="220.3" width="15.1" height="10.5" fill="#86d0bb" />
<rect x="763.2" y="226.1" width="15.1" height="4.7" fill="#3d55a8" />
<rect x="763.2" y="227.7" width="15.1" height="3.1" fill="#1c1747" />
<rect x="778.0" y="217.6" width="15.1" height="13.2" fill="#86d0bb" />
<rect x="778.0" y="224.9" width="15.1" height="5.9" fill="#3d55a8" />
<rect x="778.0" y="226.8" width="15.1" height="4.0" fill="#1c1747" />
<rect x="792.8" y="214.9" width="15.0" height="15.9" fill="#86d0bb" />
<rect x="792.8" y="223.6" width="15.0" height="7.2" fill="#3d55a8" />
<rect x="792.8" y="226.0" width="15.0" height="4.8" fill="#1c1747" />
<rect x="807.5" y="210.9" width="15.1" height="19.9" fill="#86d0bb" />
<rect x="807.5" y="221.8" width="15.1" height="9.0" fill="#3d55a8" />
<rect x="807.5" y="224.8" width="15.1" height="6.0" fill="#1c1747" />
<rect x="822.3" y="208.2" width="15.0" height="22.6" fill="#86d0bb" />
<rect x="822.3" y="220.6" width="15.0" height="10.2" fill="#3d55a8" />
<rect x="822.3" y="224.8" width="15.0" height="6.0" fill="#1c1747" />
<rect x="837.0" y="205.5" width="15.1" height="25.3" fill="#86d0bb" />
<rect x="837.0" y="219.4" width="15.1" height="11.4" fill="#3d55a8" />
<rect x="837.0" y="224.8" width="15.1" height="6.0" fill="#1c1747" />
<rect x="851.8" y="202.0" width="15.1" height="28.8" fill="#86d0bb" />
<rect x="851.8" y="217.8" width="15.1" height="13.0" fill="#3d55a8" />
<rect x="851.8" y="224.8" width="15.1" height="6.0" fill="#1c1747" />
<rect x="866.6" y="200.2" width="14.7" height="30.6" fill="#86d0bb" />
<rect x="866.6" y="217.0" width="14.7" height="13.8" fill="#3d55a8" />
<rect x="866.6" y="224.8" width="14.7" height="6.0" fill="#1c1747" />
<rect x="881.0" y="200.2" width="15.3" height="30.6" fill="#86d0bb" />
<rect x="881.0" y="217.0" width="15.3" height="13.8" fill="#3d55a8" />
<rect x="881.0" y="224.8" width="15.3" height="6.0" fill="#1c1747" />
<rect x="896.0" y="202.0" width="15.3" height="28.8" fill="#86d0bb" />
<rect x="896.0" y="217.8" width="15.3" height="13.0" fill="#3d55a8" />
<rect x="896.0" y="224.8" width="15.3" height="6.0" fill="#1c1747" />
<rect x="911.0" y="202.5" width="14.3" height="28.3" fill="#86d0bb" />
<rect x="911.0" y="218.1" width="14.3" height="12.7" fill="#3d55a8" />
<rect x="911.0" y="224.8" width="14.3" height="6.0" fill="#1c1747" />
<rect x="925.0" y="206.0" width="15.3" height="24.8" fill="#86d0bb" />
<rect x="925.0" y="219.6" width="15.3" height="11.2" fill="#3d55a8" />
<rect x="925.0" y="224.8" width="15.3" height="6.0" fill="#1c1747" />
<rect x="940.0" y="208.0" width="15.3" height="22.8" fill="#86d0bb" />
<rect x="940.0" y="220.5" width="15.3" height="10.3" fill="#3d55a8" />
<rect x="940.0" y="224.8" width="15.3" height="6.0" fill="#1c1747" />
<rect x="955.0" y="213.0" width="14.3" height="17.8" fill="#86d0bb" />
<rect x="955.0" y="222.8" width="14.3" height="8.0" fill="#3d55a8" />
<rect x="955.0" y="225.5" width="14.3" height="5.3" fill="#1c1747" />
<rect x="969.0" y="217.0" width="15.3" height="13.8" fill="#86d0bb" />
<rect x="969.0" y="224.6" width="15.3" height="6.2" fill="#3d55a8" />
<rect x="969.0" y="226.7" width="15.3" height="4.1" fill="#1c1747" />
<rect x="984.0" y="221.0" width="15.3" height="9.8" fill="#86d0bb" />
<rect x="984.0" y="226.4" width="15.3" height="4.4" fill="#3d55a8" />
<rect x="984.0" y="227.9" width="15.3" height="2.9" fill="#1c1747" />
<rect x="999.0" y="223.7" width="14.3" height="7.1" fill="#86d0bb" />
<rect x="999.0" y="227.6" width="14.3" height="3.2" fill="#3d55a8" />
<rect x="999.0" y="228.7" width="14.3" height="2.1" fill="#1c1747" />
<rect x="1013.0" y="225.0" width="15.3" height="5.8" fill="#86d0bb" />
<rect x="1013.0" y="228.2" width="15.3" height="2.6" fill="#3d55a8" />
<rect x="1013.0" y="229.1" width="15.3" height="1.7" fill="#1c1747" />
<rect x="1028.0" y="227.3" width="14.3" height="3.5" fill="#86d0bb" />
<rect x="1028.0" y="229.2" width="14.3" height="1.6" fill="#3d55a8" />
<rect x="1028.0" y="229.8" width="14.3" height="1.1" fill="#1c1747" />
<rect x="1042.0" y="225.0" width="14.3" height="5.8" fill="#86d0bb" />
<rect x="1042.0" y="228.2" width="14.3" height="2.6" fill="#3d55a8" />
<rect x="1042.0" y="229.1" width="14.3" height="1.7" fill="#1c1747" />
<rect x="1056.0" y="223.7" width="15.3" height="7.1" fill="#86d0bb" />
<rect x="1056.0" y="227.6" width="15.3" height="3.2" fill="#3d55a8" />
<rect x="1056.0" y="228.7" width="15.3" height="2.1" fill="#1c1747" />
<rect x="1071.0" y="220.3" width="14.3" height="10.5" fill="#86d0bb" />
<rect x="1071.0" y="226.1" width="14.3" height="4.7" fill="#3d55a8" />
<rect x="1071.0" y="227.7" width="14.3" height="3.1" fill="#1c1747" />
<rect x="1085.0" y="217.5" width="15.3" height="13.3" fill="#86d0bb" />
<rect x="1085.0" y="224.8" width="15.3" height="6.0" fill="#3d55a8" />
<rect x="1085.0" y="226.8" width="15.3" height="4.0" fill="#1c1747" />
<rect x="1100.0" y="215.2" width="15.3" height="15.6" fill="#86d0bb" />
<rect x="1100.0" y="223.8" width="15.3" height="7.0" fill="#3d55a8" />
<rect x="1100.0" y="226.1" width="15.3" height="4.7" fill="#1c1747" />
<rect x="1115.0" y="214.7" width="15.3" height="16.1" fill="#86d0bb" />
<rect x="1115.0" y="223.6" width="15.3" height="7.2" fill="#3d55a8" />
<rect x="1115.0" y="226.0" width="15.3" height="4.8" fill="#1c1747" />
<rect x="1130.0" y="214.0" width="15.3" height="16.8" fill="#86d0bb" />
<rect x="1130.0" y="223.2" width="15.3" height="7.6" fill="#3d55a8" />
<rect x="1130.0" y="225.8" width="15.3" height="5.0" fill="#1c1747" />
<rect x="1145.0" y="213.5" width="15.3" height="17.3" fill="#86d0bb" />
<rect x="1145.0" y="223.0" width="15.3" height="7.8" fill="#3d55a8" />
<rect x="1145.0" y="225.6" width="15.3" height="5.2" fill="#1c1747" />
<rect x="1160.0" y="213.0" width="41.3" height="17.8" fill="#74c6ea" />
<rect x="1160.0" y="219.0" width="41.3" height="11.8" fill="#3e55a6" />
<rect x="1160.0" y="222.3" width="41.3" height="8.5" fill="#1d1a4c" />
<rect x="1160.0" y="226.3" width="41.3" height="4.5" fill="#150f30" />
<rect x="78.0" y="228.0" width="1123.0" height="2.8" fill="#1a0c2e" />
<rect x="78.0" y="227.6" width="172.0" height="1.0" fill="#6a3a80" />
<rect x="719.7" y="245.8" width="92.6" height="10.0" fill="#23266a" />
<line x1="812.0" y1="250.7" x2="1201.0" y2="250.7" stroke="#2e2e72" stroke-width="1.6" />
<path d="M816.9,246.3 L821.5,250.7 L816.9,255.1 M827.2,246.3 L831.8,250.7 L827.2,255.1 M837.5,246.3 L842.1,250.7 L837.5,255.1 M847.7,246.3 L852.3,250.7 L847.7,255.1 M858.0,246.3 L862.6,250.7 L858.0,255.1 M868.3,246.3 L872.9,250.7 L868.3,255.1 M878.6,246.3 L883.2,250.7 L878.6,255.1 M888.9,246.3 L893.5,250.7 L888.9,255.1 M899.1,246.3 L903.7,250.7 L899.1,255.1 M909.4,246.3 L914.0,250.7 L909.4,255.1 M919.7,246.3 L924.3,250.7 L919.7,255.1 M930.0,246.3 L934.6,250.7 L930.0,255.1 M940.3,246.3 L944.9,250.7 L940.3,255.1 M950.5,246.3 L955.1,250.7 L950.5,255.1 M960.8,246.3 L965.4,250.7 L960.8,255.1 M971.1,246.3 L975.7,250.7 L971.1,255.1 M981.4,246.3 L986.0,250.7 L981.4,255.1 M991.7,246.3 L996.3,250.7 L991.7,255.1 M1001.9,246.3 L1006.5,250.7 L1001.9,255.1 M1012.2,246.3 L1016.8,250.7 L1012.2,255.1 M1022.5,246.3 L1027.1,250.7 L1022.5,255.1 M1032.8,246.3 L1037.4,250.7 L1032.8,255.1 M1043.1,246.3 L1047.7,250.7 L1043.1,255.1 M1053.3,246.3 L1057.9,250.7 L1053.3,255.1 M1063.6,246.3 L1068.2,250.7 L1063.6,255.1 M1073.9,246.3 L1078.5,250.7 L1073.9,255.1 M1084.2,246.3 L1088.8,250.7 L1084.2,255.1 M1094.5,246.3 L1099.1,250.7 L1094.5,255.1 M1104.7,246.3 L1109.3,250.7 L1104.7,255.1 M1115.0,246.3 L1119.6,250.7 L1115.0,255.1 M1125.3,246.3 L1129.9,250.7 L1125.3,255.1 M1135.6,246.3 L1140.2,250.7 L1135.6,255.1 M1145.9,246.3 L1150.5,250.7 L1145.9,255.1 M1156.1,246.3 L1160.7,250.7 L1156.1,255.1 M1166.4,246.3 L1171.0,250.7 L1166.4,255.1 M1176.7,246.3 L1181.3,250.7 L1176.7,255.1 M1187.0,246.3 L1191.6,250.7 L1187.0,255.1 M1197.3,246.3 L1201.9,250.7 L1197.3,255.1" fill="none" stroke="#7674c0" stroke-width="1.5"/>
<text x="538.5" y="266.9" font-size="31.6" font-weight="bold" text-anchor="start" fill="#0f3a86" >CDC42SE2</text>
<path d="M725.5,269.6 L725.5,291.2 L763,291.2" fill="none" stroke="#d4283e" stroke-width="2.6"/>
<path d="M752.6,282 L764.6,291.2 L752.6,300.2" fill="none" stroke="#d4283e" stroke-width="2.6"/>
<text x="766.0" y="300.1" font-size="26" text-anchor="start" fill="#d4283e" >TSS</text>
<rect x="540.2" y="310.7" width="422.3" height="7.9" fill="#0f2c8a" />
<rect x="540.2" y="313.4" width="422.3" height="2.4" fill="#4a4c9e" />
<rect x="593.7" y="304.7" width="98.1" height="19.6" fill="#68bde5" stroke="#0a0a0a" stroke-width="3"/>
<text x="501.0" y="349.2" font-size="26" text-anchor="start" fill="#000" >-250bp</text>
<text x="935.6" y="349.2" font-size="25.4" text-anchor="start" fill="#000" >+250bp</text>
<text x="599.4" y="360.0" font-size="25.5" font-weight="bold" text-anchor="start" fill="#62b6e1" >HELLS binding</text>
<text x="1213.6" y="154.9" font-size="31.5" font-weight="bold" text-anchor="start" fill="#000" >Transcription</text>
<text x="1212.6" y="227.4" font-size="31.6" font-weight="bold" text-anchor="start" fill="#000" >H3K4me3</text>
<text x="12.9" y="416.9" font-size="40" font-weight="bold" text-anchor="start" fill="#000" >B</text>
<text x="8.2" y="457.0" font-size="34.2" font-weight="bold" text-anchor="start" fill="#000" >JASPAR</text>
<text x="45.5" y="497.2" font-size="34.8" font-weight="bold" text-anchor="start" fill="#000" >(n=607)</text>
<defs><filter id="vshadow" x="-10%" y="-10%" width="120%" height="120%"><feGaussianBlur stdDeviation="2.2"/></filter><clipPath id="redclip"><ellipse cx="267.2" cy="613.6" rx="130.7" ry="125.2"/></clipPath></defs>
<ellipse cx="268.2" cy="615.6" rx="130.7" ry="125.2" fill="#bbb" opacity="0.5" filter="url(#vshadow)"/>
<ellipse cx="268.2" cy="788" rx="130.7" ry="125.7" fill="#bbb" opacity="0.5" filter="url(#vshadow)"/>
<ellipse cx="267.2" cy="613.6" rx="130.7" ry="125.2" fill="#e05763"/>
<ellipse cx="267.2" cy="786" rx="130.7" ry="125.7" fill="#adbfd3"/>
<ellipse cx="267.2" cy="786" rx="130.7" ry="125.7" fill="#aeacbb" clip-path="url(#redclip)"/>
<ellipse cx="267.2" cy="613.6" rx="130.7" ry="125.2" fill="none" stroke="#5d8fcf" stroke-width="1.1"/>
<ellipse cx="267.2" cy="786" rx="130.7" ry="125.7" fill="none" stroke="#5d8fcf" stroke-width="1.1"/>
<text x="186.8" y="559.6" font-size="30.5" font-weight="bold" text-anchor="start" fill="#000" >598</text>
<text x="258.5" y="710.7" font-size="30.5" font-weight="bold" text-anchor="start" fill="#000" >9</text>
<text x="306.5" y="862.9" font-size="31.5" font-weight="bold" text-anchor="start" fill="#000" >17</text>
<text x="398.6" y="894.8" font-size="34" font-weight="bold" text-anchor="start" fill="#000" >PROMO</text>
<text x="445.8" y="935.4" font-size="34.6" font-weight="bold" text-anchor="start" fill="#000" >(n=26)</text>
<text x="9.3" y="1015.9" font-size="40" font-weight="bold" text-anchor="start" fill="#000" >C</text>
<rect x="153.8" y="1015.1" width="36.5" height="27.9" fill="#d33c4e" />
<text x="203.8" y="1035.7" font-size="26" text-anchor="start" fill="#000" >JASPAR</text>
<rect x="354.4" y="1015.1" width="36.5" height="27.9" fill="#6bbce6" />
<text x="402.0" y="1035.7" font-size="25.9" text-anchor="start" fill="#000" >PROMO</text>
<rect x="114.8" y="1064.5" width="502.9" height="24.0" fill="#d33b4f" />
<rect x="114.8" y="1088.5" width="489.6" height="24.2" fill="#9dbbdb" />
<text x="103.0" y="1095.4" font-size="25.9" text-anchor="end" fill="#000" >YY1</text>
<line x1="111.6" y1="1088.5" x2="114.4" y2="1088.5" stroke="#777" stroke-width="0.8" />
<rect x="114.8" y="1133.7" width="447.5" height="24.0" fill="#d33b4f" />
<rect x="114.8" y="1157.7" width="489.6" height="24.2" fill="#9dbbdb" />
<text x="104.2" y="1163.3" font-size="25.9" text-anchor="end" fill="#000" >TFAP2A</text>
<line x1="111.6" y1="1157.7" x2="114.4" y2="1157.7" stroke="#777" stroke-width="0.8" />
<rect x="114.8" y="1203.3" width="455.2" height="24.0" fill="#d33b4f" />
<rect x="114.8" y="1227.3" width="485.2" height="24.2" fill="#9dbbdb" />
<text x="100.9" y="1229.9" font-size="25.9" text-anchor="end" fill="#000" >SP1</text>
<line x1="111.6" y1="1227.3" x2="114.4" y2="1227.3" stroke="#777" stroke-width="0.8" />
<text transform="translate(108.6,1227.3) rotate(90)" font-size="5" text-anchor="middle" fill="#555">1</text>
<rect x="114.8" y="1272.9" width="451.4" height="24.0" fill="#d33b4f" />
<rect x="114.8" y="1296.9" width="472.4" height="24.2" fill="#9dbbdb" />
<text x="106.4" y="1298.6" font-size="25.9" text-anchor="end" fill="#000" >NFIC</text>
<line x1="111.6" y1="1296.9" x2="114.4" y2="1296.9" stroke="#777" stroke-width="0.8" />
<text transform="translate(108.6,1296.9) rotate(90)" font-size="5" text-anchor="middle" fill="#555">2</text>
<rect x="114.8" y="1342.2" width="435.0" height="24.0" fill="#d33b4f" />
<rect x="114.8" y="1366.2" width="450.9" height="24.2" fill="#9dbbdb" />
<text x="104.2" y="1374.5" font-size="25.9" text-anchor="end" fill="#000" >MYB</text>
<line x1="111.6" y1="1366.2" x2="114.4" y2="1366.2" stroke="#777" stroke-width="0.8" />
<text transform="translate(108.6,1366.2) rotate(90)" font-size="5" text-anchor="middle" fill="#555">3</text>
<rect x="114.8" y="1411.4" width="426.0" height="24.0" fill="#d33b4f" />
<rect x="114.8" y="1435.4" width="479.7" height="24.2" fill="#9dbbdb" />
<text x="106.4" y="1449.7" font-size="25.9" text-anchor="end" fill="#000" >FOXP3</text>
<line x1="111.6" y1="1435.4" x2="114.4" y2="1435.4" stroke="#777" stroke-width="0.8" />
<rect x="114.8" y="1481.0" width="476.7" height="24.0" fill="#d33b4f" />
<rect x="114.8" y="1505.0" width="486.2" height="24.2" fill="#9dbbdb" />
<text x="100.9" y="1516.3" font-size="25.9" text-anchor="end" fill="#000" >ETS1</text>
<line x1="111.6" y1="1505.0" x2="114.4" y2="1505.0" stroke="#777" stroke-width="0.8" />
<rect x="114.8" y="1550.2" width="469.0" height="24.0" fill="#d33b4f" />
<rect x="114.8" y="1574.2" width="473.3" height="24.2" fill="#9dbbdb" />
<text x="99.2" y="1576.4" font-size="25.9" text-anchor="end" fill="#000" >ELK1</text>
<line x1="111.6" y1="1574.2" x2="114.4" y2="1574.2" stroke="#777" stroke-width="0.8" />
<rect x="114.8" y="1620.2" width="445.8" height="24.0" fill="#d33b4f" />
<rect x="114.8" y="1644.2" width="468.1" height="24.2" fill="#9dbbdb" />
<text x="102.6" y="1655.9" font-size="25.9" text-anchor="end" fill="#000" >E2F1</text>
<line x1="111.6" y1="1644.2" x2="114.4" y2="1644.2" stroke="#777" stroke-width="0.8" />
<line x1="114.5" y1="1055.9" x2="114.5" y2="1685.6" stroke="#555" stroke-width="1.4" />
<line x1="114.5" y1="1685.1" x2="617.3" y2="1685.1" stroke="#555" stroke-width="1.4" />
<line x1="114.5" y1="1685.1" x2="114.5" y2="1687.6" stroke="#555" stroke-width="0.8" />
<text x="114.5" y="1695.4" font-size="6.5" text-anchor="middle" fill="#333" >0</text>
<line x1="237.0" y1="1685.1" x2="237.0" y2="1687.6" stroke="#555" stroke-width="0.8" />
<text x="237.0" y="1695.4" font-size="6.5" text-anchor="middle" fill="#333" >25</text>
<line x1="359.4" y1="1685.1" x2="359.4" y2="1687.6" stroke="#555" stroke-width="0.8" />
<text x="359.4" y="1695.4" font-size="6.5" text-anchor="middle" fill="#333" >50</text>
<line x1="481.9" y1="1685.1" x2="481.9" y2="1687.6" stroke="#555" stroke-width="0.8" />
<text x="481.9" y="1695.4" font-size="6.5" text-anchor="middle" fill="#333" >75</text>
<line x1="604.4" y1="1685.1" x2="604.4" y2="1687.6" stroke="#555" stroke-width="0.8" />
<text x="604.4" y="1695.4" font-size="6.5" text-anchor="middle" fill="#333" >100</text>
<text x="258.6" y="1711.7" font-size="20.1" font-weight="bold" text-anchor="start" fill="#000" >Motif Similarity Score</text>
<text transform="translate(17.9,1388.0) rotate(-90)" font-size="20" font-weight="bold" text-anchor="middle" fill="#000" >TFs</text>
<text x="2.1" y="1783.1" font-size="40" font-weight="bold" text-anchor="start" fill="#000" >D</text>
<line x1="58.2" y1="1828.2" x2="58.2" y2="2138.8" stroke="#000" stroke-width="2.4" />
<line x1="57.0" y1="2137.6" x2="695.8" y2="2137.6" stroke="#000" stroke-width="2.4" />
<line x1="52.3" y1="1828.3" x2="58.2" y2="1828.3" stroke="#000" stroke-width="2.2" />
<text x="50.6" y="1834.1" font-size="15.6" font-weight="bold" text-anchor="end" textLength="20" lengthAdjust="spacingAndGlyphs">0.8</text>
<line x1="52.3" y1="1905.6" x2="58.2" y2="1905.6" stroke="#000" stroke-width="2.2" />
<text x="50.6" y="1911.4" font-size="15.6" font-weight="bold" text-anchor="end" textLength="20" lengthAdjust="spacingAndGlyphs">0.6</text>
<line x1="52.3" y1="1983.0" x2="58.2" y2="1983.0" stroke="#000" stroke-width="2.2" />
<text x="50.6" y="1988.8" font-size="15.6" font-weight="bold" text-anchor="end" textLength="20" lengthAdjust="spacingAndGlyphs">0.4</text>
<line x1="52.3" y1="2060.3" x2="58.2" y2="2060.3" stroke="#000" stroke-width="2.2" />
<text x="50.6" y="2066.1" font-size="15.6" font-weight="bold" text-anchor="end" textLength="20" lengthAdjust="spacingAndGlyphs">0.2</text>
<line x1="52.3" y1="2137.6" x2="58.2" y2="2137.6" stroke="#000" stroke-width="2.2" />
<text x="50.6" y="2143.4" font-size="15.6" font-weight="bold" text-anchor="end" textLength="20" lengthAdjust="spacingAndGlyphs">0.0</text>
<text transform="translate(20.4,1983.6) rotate(-90)" font-size="18.3" font-weight="bold" text-anchor="middle" fill="#000" >mRNA expression</text>
<rect x="243.4" y="1835.0" width="21.6" height="14.4" fill="#000" stroke="#000" stroke-width="1.6"/>
<text x="273.4" y="1850.2" font-size="24.8" font-weight="bold" text-anchor="start" fill="#000" >TLBR-2</text>
<rect x="409.4" y="1835.2" width="21.2" height="14.0" fill="#3c5fa8" stroke="#000" stroke-width="2.5"/>
<text x="438.2" y="1850.2" font-size="25.5" font-weight="bold" text-anchor="start" fill="#000" >MAC2A</text>
<line x1="93.6" y1="2137.6" x2="93.6" y2="2144.0" stroke="#000" stroke-width="2" />
<text x="91.2" y="2162.1" font-size="18" text-anchor="middle" fill="#000" >YY1</text>
<line x1="80.0" y1="1913.4" x2="80.0" y2="1944.3" stroke="#000" stroke-width="2" />
<line x1="75.0" y1="1913.4" x2="85.0" y2="1913.4" stroke="#000" stroke-width="2.2" />
<rect x="70.0" y="1944.3" width="20" height="193.3" fill="#000" rx="1.5"/>
<rect x="98.3" y="2002.5" width="17.8" height="135.1" fill="#3c5fa8" stroke="#000" stroke-width="2.4"/>
<line x1="107.2" y1="1975.2" x2="107.2" y2="2029.4" stroke="#000" stroke-width="2" />
<line x1="102.2" y1="1975.2" x2="112.2" y2="1975.2" stroke="#000" stroke-width="2.2" />
<line x1="102.2" y1="2029.4" x2="112.2" y2="2029.4" stroke="#000" stroke-width="2.2" />
<line x1="164.2" y1="2137.6" x2="164.2" y2="2144.0" stroke="#000" stroke-width="2" />
<text x="171.7" y="2162.1" font-size="18" text-anchor="middle" fill="#000" >TFAP2A</text>
<line x1="150.6" y1="2092.8" x2="150.6" y2="2100.9" stroke="#000" stroke-width="2" />
<line x1="145.6" y1="2092.8" x2="155.6" y2="2092.8" stroke="#000" stroke-width="2.2" />
<rect x="140.6" y="2100.9" width="20" height="36.7" fill="#000" rx="1.5"/>
<rect x="168.9" y="2006.4" width="17.8" height="131.2" fill="#3c5fa8" stroke="#000" stroke-width="2.4"/>
<line x1="177.8" y1="1986.8" x2="177.8" y2="2025.5" stroke="#000" stroke-width="2" />
<line x1="172.8" y1="1986.8" x2="182.8" y2="1986.8" stroke="#000" stroke-width="2.2" />
<line x1="172.8" y1="2025.5" x2="182.8" y2="2025.5" stroke="#000" stroke-width="2.2" />
<line x1="234.8" y1="2137.6" x2="234.8" y2="2144.0" stroke="#000" stroke-width="2" />
<text x="238.2" y="2162.1" font-size="18" text-anchor="middle" fill="#000" >SP1</text>
<line x1="305.4" y1="2137.6" x2="305.4" y2="2144.0" stroke="#000" stroke-width="2" />
<text x="308.9" y="2162.1" font-size="18" text-anchor="middle" fill="#000" >NFIC</text>
<line x1="291.8" y1="2055.6" x2="291.8" y2="2064.1" stroke="#000" stroke-width="2" />
<line x1="286.8" y1="2055.6" x2="296.8" y2="2055.6" stroke="#000" stroke-width="2.2" />
<rect x="281.8" y="2064.1" width="20" height="73.5" fill="#000" rx="1.5"/>
<rect x="310.1" y="2106.9" width="17.8" height="30.7" fill="#3c5fa8" stroke="#000" stroke-width="2.4"/>
<line x1="319.0" y1="2102.8" x2="319.0" y2="2109.8" stroke="#000" stroke-width="2" />
<line x1="314.0" y1="2102.8" x2="324.0" y2="2102.8" stroke="#000" stroke-width="2.2" />
<line x1="314.0" y1="2109.8" x2="324.0" y2="2109.8" stroke="#000" stroke-width="2.2" />
<line x1="376.0" y1="2137.6" x2="376.0" y2="2144.0" stroke="#000" stroke-width="2" />
<text x="373.5" y="2162.1" font-size="18" text-anchor="middle" fill="#000" >MYB</text>
<line x1="362.4" y1="2109.4" x2="362.4" y2="2115.2" stroke="#000" stroke-width="2" />
<line x1="357.4" y1="2109.4" x2="367.4" y2="2109.4" stroke="#000" stroke-width="2.2" />
<rect x="352.4" y="2115.2" width="20" height="22.4" fill="#000" rx="1.5"/>
<rect x="380.7" y="2057.8" width="17.8" height="79.8" fill="#3c5fa8" stroke="#000" stroke-width="2.4"/>
<line x1="389.6" y1="2023.2" x2="389.6" y2="2091.2" stroke="#000" stroke-width="2" />
<line x1="384.6" y1="2023.2" x2="394.6" y2="2023.2" stroke="#000" stroke-width="2.2" />
<line x1="384.6" y1="2091.2" x2="394.6" y2="2091.2" stroke="#000" stroke-width="2.2" />
<line x1="446.6" y1="2137.6" x2="446.6" y2="2144.0" stroke="#000" stroke-width="2" />
<text x="452.6" y="2162.1" font-size="18" text-anchor="middle" fill="#000" >FOXP3</text>
<line x1="517.2" y1="2137.6" x2="517.2" y2="2144.0" stroke="#000" stroke-width="2" />
<text x="521.9" y="2162.1" font-size="18" text-anchor="middle" fill="#000" >ETS1</text>
<line x1="503.6" y1="2091.2" x2="503.6" y2="2095.1" stroke="#000" stroke-width="2" />
<line x1="498.6" y1="2091.2" x2="508.6" y2="2091.2" stroke="#000" stroke-width="2.2" />
<rect x="493.6" y="2095.1" width="20" height="42.5" fill="#000" rx="1.5"/>
<rect x="521.9" y="2006.4" width="17.8" height="131.2" fill="#3c5fa8" stroke="#000" stroke-width="2.4"/>
<line x1="530.8" y1="1990.7" x2="530.8" y2="2021.6" stroke="#000" stroke-width="2" />
<line x1="525.8" y1="1990.7" x2="535.8" y2="1990.7" stroke="#000" stroke-width="2.2" />
<line x1="525.8" y1="2021.6" x2="535.8" y2="2021.6" stroke="#000" stroke-width="2.2" />
<line x1="587.8" y1="2137.6" x2="587.8" y2="2144.0" stroke="#000" stroke-width="2" />
<text x="588.0" y="2162.1" font-size="18" text-anchor="middle" fill="#000" >ELK1</text>
<rect x="564.2" y="2083.5" width="20" height="54.1" fill="#000" rx="1.5"/>
<rect x="592.5" y="1995.2" width="17.8" height="142.4" fill="#3c5fa8" stroke="#000" stroke-width="2.4"/>
<line x1="601.4" y1="1983.7" x2="601.4" y2="2006.2" stroke="#000" stroke-width="2" />
<line x1="596.4" y1="1983.7" x2="606.4" y2="1983.7" stroke="#000" stroke-width="2.2" />
<line x1="596.4" y1="2006.2" x2="606.4" y2="2006.2" stroke="#000" stroke-width="2.2" />
<line x1="658.4" y1="2137.6" x2="658.4" y2="2144.0" stroke="#000" stroke-width="2" />
<text x="657.8" y="2162.1" font-size="18" text-anchor="middle" fill="#000" >E2F1</text>
<line x1="644.8" y1="2123.7" x2="644.8" y2="2125.2" stroke="#000" stroke-width="2" />
<line x1="639.8" y1="2123.7" x2="649.8" y2="2123.7" stroke="#000" stroke-width="2.2" />
<rect x="634.8" y="2125.2" width="20" height="12.4" fill="#000" rx="1.5"/>
<rect x="663.1" y="2093.8" width="17.8" height="43.8" fill="#3c5fa8" stroke="#000" stroke-width="2.4"/>
<line x1="672.0" y1="2087.0" x2="672.0" y2="2098.6" stroke="#000" stroke-width="2" />
<line x1="667.0" y1="2087.0" x2="677.0" y2="2087.0" stroke="#000" stroke-width="2.2" />
<line x1="667.0" y1="2098.6" x2="677.0" y2="2098.6" stroke="#000" stroke-width="2.2" />
<defs><filter id="b1" x="-30%" y="-150%" width="160%" height="400%"><feGaussianBlur stdDeviation="1.5"/></filter><filter id="b2" x="-30%" y="-150%" width="160%" height="400%"><feGaussianBlur stdDeviation="2.3"/></filter><filter id="b3" x="-30%" y="-150%" width="160%" height="400%"><feGaussianBlur stdDeviation="4"/></filter><filter id="b4" x="-30%" y="-150%" width="160%" height="400%"><feGaussianBlur stdDeviation="6"/></filter></defs>
<text x="819.2" y="443.6" font-size="40" font-weight="bold" text-anchor="start" fill="#000" >E</text>
<text x="942.0" y="525.3" font-size="39.5" font-weight="bold" text-anchor="start" fill="#000" >TLBR-2</text>
<text x="977.2" y="570.5" font-size="33.5" font-weight="bold" text-anchor="start" fill="#000" >IP</text>
<line x1="879.6" y1="585.1" x2="1083.4" y2="585.1" stroke="#000" stroke-width="2.2" />
<text x="874.0" y="633.8" font-size="34.6" text-anchor="start" fill="#000" >HELLS</text>
<text x="1017.2" y="633.8" font-size="35" text-anchor="start" fill="#000" >IgG</text>
<text x="1109.8" y="633.8" font-size="34.4" text-anchor="start" fill="#000" >INPUT</text>
<text x="871.7" y="687.0" font-size="17.3" text-anchor="end" fill="#000" >97 kDa</text>
<text x="871.7" y="764.0" font-size="17.3" text-anchor="end" fill="#000" >65 kDa</text>
<text x="1218.5" y="694.5" font-size="34" text-anchor="start" fill="#000" >WB: HELLS</text>
<text x="1218.5" y="780.0" font-size="34" text-anchor="start" fill="#000" >WB: YY1</text>
<defs><clipPath id="cb1"><rect x="879.6" y="662.7" width="215.2" height="51.7"/></clipPath></defs>
<g clip-path="url(#cb1)"><rect x="878.2" y="661.3" width="218.0" height="54.5" fill="#f3f3f3"/><path d="M904.5,683.6 Q933.8,687.2 963.0,683.6 A8,8 0 0 1 963.0,699.6 Q933.8,696.0 904.5,699.6 A8,8 0 0 1 904.5,683.6 Z" fill="#181818" filter="url(#b2)"/><rect x="898" y="682" width="72" height="20" rx="9" fill="#000" opacity="0.08" filter="url(#b3)"/></g>
<rect x="879.6" y="662.6" width="215.3" height="51.8" fill="none" stroke="#000" stroke-width="2.7"/>
<rect x="881.3" y="664.4" width="211.8" height="48.3" fill="none" stroke="#fff" stroke-width="0.9" opacity="0.8"/>
<defs><clipPath id="cb2"><rect x="1105.5" y="662.7" width="96.4" height="51.8"/></clipPath></defs>
<g clip-path="url(#cb2)"><rect x="1104.1" y="661.3" width="99.2" height="54.6" fill="#ebebeb"/><rect x="1104" y="661" width="100" height="14" fill="#f1f1f1" filter="url(#b3)"/><path d="M1121.0,675.0 Q1155.2,681.8 1189.5,673.0 A8.5,8.5 0 0 1 1189.5,690.0 Q1155.2,683.2 1121.0,692.0 A8.5,8.5 0 0 1 1121.0,675.0 Z" fill="#1d1d1d" filter="url(#b2)"/><rect x="1114" y="688" width="82" height="8" fill="#b8b8b8" filter="url(#b3)"/></g>
<rect x="1105.4" y="662.6" width="96.5" height="51.9" fill="none" stroke="#000" stroke-width="2.7"/>
<rect x="1107.2" y="664.4" width="93.0" height="48.4" fill="none" stroke="#fff" stroke-width="0.9" opacity="0.8"/>
<defs><linearGradient id="smear3" x1="0" y1="0" x2="0" y2="1"><stop offset="0" stop-color="#7c7c7c"/><stop offset="0.55" stop-color="#5a5a5a"/><stop offset="1" stop-color="#303030"/></linearGradient></defs>
<defs><clipPath id="cb3"><rect x="880.9" y="734.7" width="213.9" height="60.6"/></clipPath></defs>
<g clip-path="url(#cb3)"><rect x="879.5" y="733.3" width="216.7" height="63.4" fill="#f4f4f4"/><rect x="891" y="722" width="84" height="44" fill="url(#smear3)" filter="url(#b1)"/><rect x="898" y="730" width="5" height="26" fill="#8a8a8a" opacity="0.3" filter="url(#b1)"/><rect x="914" y="730" width="4" height="24" fill="#505050" opacity="0.6" filter="url(#b1)"/><rect x="930" y="730" width="6" height="26" fill="#888" opacity="0.3" filter="url(#b1)"/><rect x="950" y="730" width="5" height="24" fill="#4a4a4a" opacity="0.5" filter="url(#b1)"/><path d="M890,759 Q900,757 915,762 Q940,764 960,761 Q970,757 976,759 L976,779 Q930,781 890,779 Z" fill="#030303" filter="url(#b1)"/><rect x="993" y="772" width="58" height="6" rx="3" fill="#d2d2d2" filter="url(#b2)"/><ellipse cx="998" cy="775" rx="4" ry="3" fill="#c2c2c2" filter="url(#b1)"/><ellipse cx="1087" cy="760" rx="5" ry="11" fill="#d8d8d8" filter="url(#b2)"/></g>
<rect x="880.9" y="734.6" width="214.0" height="60.7" fill="none" stroke="#000" stroke-width="2.7"/>
<rect x="882.6" y="736.4" width="210.5" height="57.2" fill="none" stroke="#fff" stroke-width="0.9" opacity="0.8"/>
<defs><clipPath id="cb4"><rect x="1106.6" y="734.5" width="95.2" height="60.0"/></clipPath></defs>
<g clip-path="url(#cb4)"><rect x="1105.2" y="733.1" width="98.0" height="62.8" fill="#f5f5f5"/><path d="M1120,768 Q1160,780 1198,770 L1198,780 Q1160,788 1124,779 Z" fill="#a8a8a8" filter="url(#b3)"/><path d="M1116,757 Q1123,763 1135,765 Q1160,770 1197,763 L1198,771 Q1160,778 1130,774 Q1118,771 1115,763 Z" fill="#363636" filter="url(#b2)"/></g>
<rect x="1106.5" y="734.5" width="95.3" height="60.1" fill="none" stroke="#000" stroke-width="2.7"/>
<rect x="1108.3" y="736.2" width="91.8" height="56.6" fill="none" stroke="#fff" stroke-width="0.9" opacity="0.8"/>
<text x="940.5" y="874.0" font-size="39.5" font-weight="bold" text-anchor="start" fill="#000" >MAC2A</text>
<text x="976.2" y="919.6" font-size="33.5" font-weight="bold" text-anchor="start" fill="#000" >IP</text>
<line x1="877.4" y1="934.3" x2="1081.2" y2="934.3" stroke="#000" stroke-width="2.2" />
<text x="872.8" y="982.5" font-size="34.5" text-anchor="start" fill="#000" >HELLS</text>
<text x="1015.0" y="982.5" font-size="35" text-anchor="start" fill="#000" >IgG</text>
<text x="1105.3" y="982.5" font-size="34.4" text-anchor="start" fill="#000" >INPUT</text>
<text x="871.7" y="1030.4" font-size="17.3" text-anchor="end" fill="#000" >97 kDa</text>
<text x="871.7" y="1107.9" font-size="17.3" text-anchor="end" fill="#000" >65 kDa</text>
<text x="1228.5" y="1040.1" font-size="34" text-anchor="start" fill="#000" >WB: HELLS</text>
<text x="1228.5" y="1118.0" font-size="34" text-anchor="start" fill="#000" >WB: YY1</text>
<defs><clipPath id="cb5"><rect x="877.6" y="1005.1" width="215.0" height="51.1"/></clipPath></defs>
<g clip-path="url(#cb5)"><rect x="876.2" y="1003.7" width="217.8" height="53.9" fill="#f6f6f6"/><rect x="891" y="1000" width="83" height="32" fill="#b4b4b4" filter="url(#b2)"/><rect x="891" y="1032" width="83" height="28" fill="#4c4c4c" filter="url(#b2)"/><ellipse cx="930" cy="1045" rx="22" ry="6" fill="#6a6a6a" filter="url(#b2)"/><path d="M895.2,1025.4 Q932.0,1028.6 968.8,1024.9 A6.2,6.2 0 0 1 968.8,1037.3 Q932.0,1034.6 895.2,1037.8 A6.2,6.2 0 0 1 895.2,1025.4 Z" fill="#080808" filter="url(#b1)"/><rect x="1003" y="1012" width="80" height="48" fill="#cbcbcb" filter="url(#b4)"/></g>
<rect x="877.6" y="1005.1" width="215.1" height="51.2" fill="none" stroke="#000" stroke-width="2.7"/>
<rect x="879.3" y="1006.8" width="211.6" height="47.7" fill="none" stroke="#fff" stroke-width="0.9" opacity="0.8"/>
<defs><clipPath id="cb6"><rect x="1108.0" y="1006.7" width="102.5" height="49.7"/></clipPath></defs>
<g clip-path="url(#cb6)"><rect x="1106.6" y="1005.3" width="105.3" height="52.5" fill="#f6f6f6"/><path d="M1127,1034 Q1135,1031 1150,1031 Q1175,1030 1185,1028 Q1190,1026 1193,1021 L1197,1029 L1197,1040 L1193,1043 Q1175,1040 1150,1040 Q1135,1039.5 1127,1036 Z" fill="#000" filter="url(#b1)"/><circle cx="1114.7" cy="1018.8" r="1.2" fill="#777" filter="url(#b1)"/></g>
<rect x="1107.9" y="1006.6" width="102.6" height="49.8" fill="none" stroke="#000" stroke-width="2.7"/>
<rect x="1109.7" y="1008.4" width="99.1" height="46.3" fill="none" stroke="#fff" stroke-width="0.9" opacity="0.8"/>
<defs><clipPath id="cb7"><rect x="877.9" y="1077.7" width="215.4" height="51.3"/></clipPath></defs>
<g clip-path="url(#cb7)"><rect x="876.5" y="1076.3" width="218.2" height="54.1" fill="#f6f6f6"/><rect x="890" y="1080" width="85" height="28" fill="#bdbdbd" filter="url(#b3)"/><path d="M894.5,1106.0 Q932.5,1106.6 970.5,1106.0 A4,4 0 0 1 970.5,1114.0 Q932.5,1113.4 894.5,1114.0 A4,4 0 0 1 894.5,1106.0 Z" fill="#020202" filter="url(#b1)"/><ellipse cx="966" cy="1108" rx="4" ry="3" fill="#c8c8c8" filter="url(#b1)"/><rect x="1004" y="1105" width="72" height="8.5" rx="4" fill="#c6c6c6" filter="url(#b2)"/><rect x="1000" y="1095" width="70" height="10" fill="#ececec" filter="url(#b3)"/></g>
<rect x="877.9" y="1077.6" width="215.5" height="51.4" fill="none" stroke="#000" stroke-width="2.7"/>
<rect x="879.6" y="1079.4" width="212.0" height="47.9" fill="none" stroke="#fff" stroke-width="0.9" opacity="0.8"/>
<defs><clipPath id="cb8"><rect x="1109.9" y="1078.7" width="98.7" height="49.3"/></clipPath></defs>
<g clip-path="url(#cb8)"><rect x="1108.5" y="1077.3" width="101.5" height="52.1" fill="#dedede"/><path d="M1124,1108 Q1160,1128 1200,1108 L1200,1120 Q1160,1132 1128,1118 Z" fill="#a2a2a2" filter="url(#b3)"/><path d="M1120,1103 Q1140,1097 1170,1099 Q1185,1100 1188,1094 Q1192,1088 1198,1092 Q1203,1100 1198,1107 Q1180,1116 1160,1115 Q1135,1113 1120,1103 Z" fill="#666" filter="url(#b2)"/></g>
<rect x="1109.8" y="1078.6" width="98.8" height="49.4" fill="none" stroke="#000" stroke-width="2.7"/>
<rect x="1111.6" y="1080.4" width="95.3" height="45.9" fill="none" stroke="#fff" stroke-width="0.9" opacity="0.8"/>
<text x="759.9" y="1235.6" font-size="40" font-weight="bold" text-anchor="start" fill="#000" >F</text>
<text x="1029.5" y="1284.8" font-size="31.5" font-weight="bold">TLBR-2 HELLS<tspan font-size="16.5" dy="-11.3">KD</tspan></text>
<line x1="819.6" y1="1304.6" x2="819.6" y2="1437.4" stroke="#000" stroke-width="2.2" />
<line x1="819.6" y1="1455.2" x2="819.6" y2="1587.6" stroke="#000" stroke-width="2.2" />
<line x1="813.4" y1="1437.4" x2="825.8" y2="1437.4" stroke="#000" stroke-width="2.2" />
<line x1="813.4" y1="1455.2" x2="825.8" y2="1455.2" stroke="#000" stroke-width="2.2" />
<line x1="813.6" y1="1305.4" x2="819.6" y2="1305.4" stroke="#000" stroke-width="2.2" />
<line x1="813.6" y1="1331.8" x2="819.6" y2="1331.8" stroke="#000" stroke-width="2.2" />
<line x1="813.6" y1="1358.2" x2="819.6" y2="1358.2" stroke="#000" stroke-width="2.2" />
<line x1="813.6" y1="1384.6" x2="819.6" y2="1384.6" stroke="#000" stroke-width="2.2" />
<line x1="813.6" y1="1411.0" x2="819.6" y2="1411.0" stroke="#000" stroke-width="2.2" />
<line x1="813.6" y1="1482.0" x2="819.6" y2="1482.0" stroke="#000" stroke-width="2.2" />
<line x1="813.6" y1="1508.2" x2="819.6" y2="1508.2" stroke="#000" stroke-width="2.2" />
<line x1="813.6" y1="1534.3" x2="819.6" y2="1534.3" stroke="#000" stroke-width="2.2" />
<line x1="813.6" y1="1560.5" x2="819.6" y2="1560.5" stroke="#000" stroke-width="2.2" />
<line x1="813.6" y1="1586.6" x2="819.6" y2="1586.6" stroke="#000" stroke-width="2.2" />
<text x="811.9" y="1311.5" font-size="14.5" font-weight="bold" text-anchor="end" textLength="17.4" lengthAdjust="spacingAndGlyphs">20</text>
<text x="811.9" y="1337.9" font-size="14.5" font-weight="bold" text-anchor="end" textLength="17.4" lengthAdjust="spacingAndGlyphs">18</text>
<text x="811.9" y="1364.3" font-size="14.5" font-weight="bold" text-anchor="end" textLength="17.4" lengthAdjust="spacingAndGlyphs">16</text>
<text x="811.9" y="1390.7" font-size="14.5" font-weight="bold" text-anchor="end" textLength="17.4" lengthAdjust="spacingAndGlyphs">14</text>
<text x="811.9" y="1417.1" font-size="14.5" font-weight="bold" text-anchor="end" textLength="17.4" lengthAdjust="spacingAndGlyphs">12</text>
<text x="811.9" y="1443.5" font-size="14.5" font-weight="bold" text-anchor="end" textLength="17.4" lengthAdjust="spacingAndGlyphs">10</text>
<text x="811.9" y="1461.3" font-size="14.5" font-weight="bold" text-anchor="end" textLength="17.4" lengthAdjust="spacingAndGlyphs">10</text>
<text x="811.9" y="1488.1" font-size="14.5" font-weight="bold" text-anchor="end" textLength="8.7" lengthAdjust="spacingAndGlyphs">8</text>
<text x="811.9" y="1514.3" font-size="14.5" font-weight="bold" text-anchor="end" textLength="8.7" lengthAdjust="spacingAndGlyphs">6</text>
<text x="811.9" y="1540.4" font-size="14.5" font-weight="bold" text-anchor="end" textLength="8.7" lengthAdjust="spacingAndGlyphs">4</text>
<text x="811.9" y="1566.6" font-size="14.5" font-weight="bold" text-anchor="end" textLength="8.7" lengthAdjust="spacingAndGlyphs">2</text>
<text x="811.9" y="1592.7" font-size="14.5" font-weight="bold" text-anchor="end" textLength="8.7" lengthAdjust="spacingAndGlyphs">0</text>
<line x1="818.5" y1="1586.6" x2="1485.5" y2="1586.6" stroke="#000" stroke-width="2.2" />
<text transform="translate(787.6,1444.0) rotate(-90)" font-size="16.4" font-weight="bold" text-anchor="middle" fill="#000" >Fold enrichment over IgG</text>
<rect x="992.4" y="1303.5" width="23.2" height="14.2" fill="#000" />
<text x="1027.6" y="1316.2" font-size="17.1" text-anchor="start" fill="#000" >CTR</text>
<rect x="1227.6" y="1305.0" width="21.2" height="10.8" fill="#fff" stroke="#000" stroke-width="1.8"/>
<text x="1261.5" y="1316.2" font-size="17.2" text-anchor="start" fill="#000" >DOX</text>
<line x1="839.8" y1="1586.6" x2="839.8" y2="1592.6" stroke="#000" stroke-width="1.8" />
<text transform="translate(838.0,1606.5) rotate(-90)" font-size="20.0" text-anchor="end" fill="#000" >RHOA</text>
<rect x="831.0" y="1551.3" width="17.6" height="35.3" fill="#000" rx="1"/>
<line x1="864.2" y1="1586.6" x2="864.2" y2="1592.6" stroke="#000" stroke-width="1.8" />
<text transform="translate(862.7,1606.5) rotate(-90)" font-size="20.0" text-anchor="end" fill="#000" >ECT2</text>
<rect x="855.4" y="1542.8" width="17.6" height="43.8" fill="#000" rx="1"/>
<line x1="888.7" y1="1586.6" x2="888.7" y2="1592.6" stroke="#000" stroke-width="1.8" />
<text transform="translate(887.4,1606.5) rotate(-90)" font-size="20.0" text-anchor="end" fill="#000" >PLK1</text>
<rect x="879.9" y="1508.2" width="17.6" height="78.4" fill="#000" rx="1"/>
<line x1="913.1" y1="1586.6" x2="913.1" y2="1592.6" stroke="#000" stroke-width="1.8" />
<text transform="translate(912.2,1606.5) rotate(-90)" font-size="20.0" text-anchor="end" fill="#000" >PITPNM1</text>
<rect x="904.3" y="1575.2" width="17.6" height="11.4" fill="#000" rx="1"/>
<line x1="937.5" y1="1586.6" x2="937.5" y2="1592.6" stroke="#000" stroke-width="1.8" />
<text transform="translate(936.9,1606.5) rotate(-90)" font-size="20.0" text-anchor="end" fill="#000" >CDC42SE2</text>
<rect x="928.7" y="1345.0" width="17.6" height="92.4" fill="#000"/>
<rect x="928.7" y="1455.4" width="17.6" height="131.2" fill="#000"/>
<line x1="961.9" y1="1586.6" x2="961.9" y2="1592.6" stroke="#000" stroke-width="1.8" />
<text transform="translate(961.6,1606.5) rotate(-90)" font-size="20.0" text-anchor="end" fill="#000" >KLHL21</text>
<rect x="953.1" y="1548.0" width="17.6" height="38.6" fill="#000" rx="1"/>
<line x1="986.4" y1="1586.6" x2="986.4" y2="1592.6" stroke="#000" stroke-width="1.8" />
<text transform="translate(986.3,1606.5) rotate(-90)" font-size="20.0" text-anchor="end" fill="#000" >KIF20A</text>
<rect x="977.6" y="1510.1" width="17.6" height="76.5" fill="#000" rx="1"/>
<line x1="1010.8" y1="1586.6" x2="1010.8" y2="1592.6" stroke="#000" stroke-width="1.8" />
<text transform="translate(1011.0,1606.5) rotate(-90)" font-size="20.0" text-anchor="end" fill="#000" >RHOU</text>
<rect x="1002.0" y="1544.8" width="17.6" height="41.8" fill="#000" rx="1"/>
<line x1="1035.2" y1="1586.6" x2="1035.2" y2="1592.6" stroke="#000" stroke-width="1.8" />
<text transform="translate(1035.8,1606.5) rotate(-90)" font-size="20.0" text-anchor="end" fill="#000" >PAK2</text>
<rect x="1026.4" y="1532.4" width="17.6" height="54.2" fill="#000" rx="1"/>
<line x1="1059.7" y1="1586.6" x2="1059.7" y2="1592.6" stroke="#000" stroke-width="1.8" />
<text transform="translate(1060.5,1606.5) rotate(-90)" font-size="20.0" text-anchor="end" fill="#000" >AURKB</text>
<rect x="1050.9" y="1518.6" width="17.6" height="68.0" fill="#000" rx="1"/>
<line x1="1084.1" y1="1586.6" x2="1084.1" y2="1592.6" stroke="#000" stroke-width="1.8" />
<text transform="translate(1085.2,1606.5) rotate(-90)" font-size="20.0" text-anchor="end" fill="#000" >ANLN</text>
<rect x="1075.3" y="1560.5" width="17.6" height="26.1" fill="#000" rx="1"/>
<line x1="1108.5" y1="1586.6" x2="1108.5" y2="1592.6" stroke="#000" stroke-width="1.8" />
<text transform="translate(1109.9,1606.5) rotate(-90)" font-size="20.0" text-anchor="end" fill="#000" >KLF4</text>
<rect x="1099.7" y="1504.3" width="17.6" height="82.3" fill="#000" rx="1"/>
<line x1="1133.0" y1="1586.6" x2="1133.0" y2="1592.6" stroke="#000" stroke-width="1.8" />
<text transform="translate(1134.6,1606.5) rotate(-90)" font-size="20.0" text-anchor="end" fill="#000" >a-satellite</text>
<rect x="1124.2" y="1566.3" width="17.6" height="20.3" fill="#000" rx="1"/>
<line x1="1173.0" y1="1586.6" x2="1173.0" y2="1592.6" stroke="#000" stroke-width="1.8" />
<text transform="translate(1175.9,1606.5) rotate(-90)" font-size="20.0" text-anchor="end" fill="#000" >RHOA</text>
<rect x="1164.9" y="1568.5" width="16.2" height="18.1" fill="#fff" stroke="#000" stroke-width="1.8"/>
<line x1="1197.4" y1="1586.6" x2="1197.4" y2="1592.6" stroke="#000" stroke-width="1.8" />
<text transform="translate(1200.6,1606.5) rotate(-90)" font-size="20.0" text-anchor="end" fill="#000" >ECT2</text>
<rect x="1189.3" y="1539.8" width="16.2" height="46.8" fill="#fff" stroke="#000" stroke-width="1.8"/>
<line x1="1221.9" y1="1586.6" x2="1221.9" y2="1592.6" stroke="#000" stroke-width="1.8" />
<text transform="translate(1225.3,1606.5) rotate(-90)" font-size="20.0" text-anchor="end" fill="#000" >PLK1</text>
<rect x="1213.8" y="1517.6" width="16.2" height="69.0" fill="#fff" stroke="#000" stroke-width="1.8"/>
<line x1="1246.3" y1="1586.6" x2="1246.3" y2="1592.6" stroke="#000" stroke-width="1.8" />
<text transform="translate(1250.1,1606.5) rotate(-90)" font-size="20.0" text-anchor="end" fill="#000" >PITPNM1</text>
<rect x="1238.2" y="1576.1" width="16.2" height="10.5" fill="#fff" stroke="#000" stroke-width="1.8"/>
<line x1="1270.7" y1="1586.6" x2="1270.7" y2="1592.6" stroke="#000" stroke-width="1.8" />
<text transform="translate(1274.8,1606.5) rotate(-90)" font-size="20.0" text-anchor="end" fill="#000" >CDC42SE2</text>
<rect x="1262.6" y="1473.8" width="16.2" height="112.8" fill="#fff" stroke="#000" stroke-width="1.8"/>
<line x1="1295.2" y1="1586.6" x2="1295.2" y2="1592.6" stroke="#000" stroke-width="1.8" />
<text transform="translate(1299.5,1606.5) rotate(-90)" font-size="20.0" text-anchor="end" fill="#000" >KLHL21</text>
<rect x="1287.1" y="1571.8" width="16.2" height="14.8" fill="#fff" stroke="#000" stroke-width="1.8"/>
<line x1="1319.6" y1="1586.6" x2="1319.6" y2="1592.6" stroke="#000" stroke-width="1.8" />
<text transform="translate(1324.2,1606.5) rotate(-90)" font-size="20.0" text-anchor="end" fill="#000" >KIF20A</text>
<rect x="1311.5" y="1562.7" width="16.2" height="23.9" fill="#fff" stroke="#000" stroke-width="1.8"/>
<line x1="1344.0" y1="1586.6" x2="1344.0" y2="1592.6" stroke="#000" stroke-width="1.8" />
<text transform="translate(1348.9,1606.5) rotate(-90)" font-size="20.0" text-anchor="end" fill="#000" >RHOU</text>
<rect x="1335.9" y="1569.6" width="16.2" height="17.0" fill="#fff" stroke="#000" stroke-width="1.8"/>
<line x1="1368.4" y1="1586.6" x2="1368.4" y2="1592.6" stroke="#000" stroke-width="1.8" />
<text transform="translate(1373.7,1606.5) rotate(-90)" font-size="20.0" text-anchor="end" fill="#000" >PAK2</text>
<rect x="1360.3" y="1565.3" width="16.2" height="21.3" fill="#fff" stroke="#000" stroke-width="1.8"/>
<line x1="1392.9" y1="1586.6" x2="1392.9" y2="1592.6" stroke="#000" stroke-width="1.8" />
<text transform="translate(1398.4,1606.5) rotate(-90)" font-size="20.0" text-anchor="end" fill="#000" >AURKB</text>
<rect x="1384.8" y="1581.0" width="16.2" height="5.6" fill="#fff" stroke="#000" stroke-width="1.8"/>
<line x1="1417.3" y1="1586.6" x2="1417.3" y2="1592.6" stroke="#000" stroke-width="1.8" />
<text transform="translate(1423.1,1606.5) rotate(-90)" font-size="20.0" text-anchor="end" fill="#000" >ANLN</text>
<rect x="1409.2" y="1584.9" width="16.2" height="1.7" fill="#fff" stroke="#000" stroke-width="1.8"/>
<line x1="1441.7" y1="1586.6" x2="1441.7" y2="1592.6" stroke="#000" stroke-width="1.8" />
<text transform="translate(1447.8,1606.5) rotate(-90)" font-size="20.0" text-anchor="end" fill="#000" >KLF4</text>
<rect x="1433.6" y="1566.3" width="16.2" height="20.3" fill="#fff" stroke="#000" stroke-width="1.8"/>
<line x1="1466.2" y1="1586.6" x2="1466.2" y2="1592.6" stroke="#000" stroke-width="1.8" />
<text transform="translate(1472.5,1606.5) rotate(-90)" font-size="20.0" text-anchor="end" fill="#000" >a-satellite</text>
<rect x="1458.1" y="1558.7" width="16.2" height="27.9" fill="#fff" stroke="#000" stroke-width="1.8"/>
<line x1="819.6" y1="1564.2" x2="1490.0" y2="1564.2" stroke="#000" stroke-width="1.1" stroke-dasharray="3.4,2"/>
<text x="1038.3" y="1786.6" font-size="31.5" font-weight="bold">MAC2A HELLS<tspan font-size="16.3" dy="-10.3">KD</tspan></text>
<line x1="811.6" y1="1799.2" x2="811.6" y2="2082.4" stroke="#000" stroke-width="2.2" />
<line x1="805.6" y1="1799.8" x2="811.6" y2="1799.8" stroke="#000" stroke-width="2.2" />
<text x="804.7" y="1805.9" font-size="14.5" font-weight="bold" text-anchor="end" textLength="17.4" lengthAdjust="spacingAndGlyphs">15</text>
<line x1="805.6" y1="1893.6" x2="811.6" y2="1893.6" stroke="#000" stroke-width="2.2" />
<text x="804.7" y="1899.7" font-size="14.5" font-weight="bold" text-anchor="end" textLength="17.4" lengthAdjust="spacingAndGlyphs">10</text>
<line x1="805.6" y1="1987.5" x2="811.6" y2="1987.5" stroke="#000" stroke-width="2.2" />
<text x="804.7" y="1993.6" font-size="14.5" font-weight="bold" text-anchor="end" textLength="8.7" lengthAdjust="spacingAndGlyphs">5</text>
<line x1="805.6" y1="2081.3" x2="811.6" y2="2081.3" stroke="#000" stroke-width="2.2" />
<text x="804.7" y="2087.4" font-size="14.5" font-weight="bold" text-anchor="end" textLength="8.7" lengthAdjust="spacingAndGlyphs">0</text>
<line x1="810.5" y1="2081.3" x2="1474.0" y2="2081.3" stroke="#000" stroke-width="2.2" />
<text transform="translate(780.2,1941.3) rotate(-90)" font-size="16.4" font-weight="bold" text-anchor="middle" fill="#000" >Fold enrichment over IgG</text>
<rect x="993.9" y="1799.2" width="22.4" height="12.4" fill="#3c5ea8" stroke="#000" stroke-width="1.8"/>
<text x="1028.1" y="1810.7" font-size="17.1" text-anchor="start" fill="#000" >CTR</text>
<rect x="1240.6" y="1799.2" width="21.6" height="12.4" fill="#fff" stroke="#000" stroke-width="1.8"/>
<text x="1274.6" y="1810.7" font-size="17.2" text-anchor="start" fill="#000" >DOX</text>
<line x1="832.0" y1="2081.3" x2="832.0" y2="2087.5" stroke="#000" stroke-width="1.8" />
<text transform="translate(835.7,2091.8) rotate(-90)" font-size="20.0" text-anchor="end" fill="#000" >RHOA</text>
<rect x="824.2" y="1900.2" width="15.6" height="181.1" fill="#3c5ea8" stroke="#000" stroke-width="2"/>
<line x1="856.4" y1="2081.3" x2="856.4" y2="2087.5" stroke="#000" stroke-width="1.8" />
<text transform="translate(860.5,2091.8) rotate(-90)" font-size="20.0" text-anchor="end" fill="#000" >ECT2</text>
<rect x="848.6" y="2041.0" width="15.6" height="40.3" fill="#3c5ea8" stroke="#000" stroke-width="2"/>
<line x1="880.9" y1="2081.3" x2="880.9" y2="2087.5" stroke="#000" stroke-width="1.8" />
<text transform="translate(885.3,2091.8) rotate(-90)" font-size="20.0" text-anchor="end" fill="#000" >PLK1</text>
<rect x="873.1" y="2027.9" width="15.6" height="53.4" fill="#3c5ea8" stroke="#000" stroke-width="2"/>
<line x1="905.3" y1="2081.3" x2="905.3" y2="2087.5" stroke="#000" stroke-width="1.8" />
<text transform="translate(910.1,2091.8) rotate(-90)" font-size="20.0" text-anchor="end" fill="#000" >PITPNM1</text>
<rect x="897.5" y="2009.1" width="15.6" height="72.2" fill="#3c5ea8" stroke="#000" stroke-width="2"/>
<line x1="929.7" y1="2081.3" x2="929.7" y2="2087.5" stroke="#000" stroke-width="1.8" />
<text transform="translate(934.9,2091.8) rotate(-90)" font-size="20.0" text-anchor="end" fill="#000" >CDC42SE2</text>
<rect x="921.9" y="2045.7" width="15.6" height="35.6" fill="#3c5ea8" stroke="#000" stroke-width="2"/>
<line x1="954.1" y1="2081.3" x2="954.1" y2="2087.5" stroke="#000" stroke-width="1.8" />
<text transform="translate(959.7,2091.8) rotate(-90)" font-size="20.0" text-anchor="end" fill="#000" >KLHL21</text>
<rect x="946.4" y="1922.8" width="15.6" height="158.5" fill="#3c5ea8" stroke="#000" stroke-width="2"/>
<line x1="978.6" y1="2081.3" x2="978.6" y2="2087.5" stroke="#000" stroke-width="1.8" />
<text transform="translate(984.5,2091.8) rotate(-90)" font-size="20.0" text-anchor="end" fill="#000" >KIF20A</text>
<rect x="970.8" y="2035.4" width="15.6" height="45.9" fill="#3c5ea8" stroke="#000" stroke-width="2"/>
<line x1="1003.0" y1="2081.3" x2="1003.0" y2="2087.5" stroke="#000" stroke-width="1.8" />
<text transform="translate(1009.3,2091.8) rotate(-90)" font-size="20.0" text-anchor="end" fill="#000" >RHOU</text>
<rect x="995.2" y="2029.7" width="15.6" height="51.6" fill="#3c5ea8" stroke="#000" stroke-width="2"/>
<line x1="1027.4" y1="2081.3" x2="1027.4" y2="2087.5" stroke="#000" stroke-width="1.8" />
<text transform="translate(1034.1,2091.8) rotate(-90)" font-size="20.0" text-anchor="end" fill="#000" >PAK2</text>
<rect x="1019.6" y="1905.9" width="15.6" height="175.4" fill="#3c5ea8" stroke="#000" stroke-width="2"/>
<line x1="1051.9" y1="2081.3" x2="1051.9" y2="2087.5" stroke="#000" stroke-width="1.8" />
<text transform="translate(1058.9,2091.8) rotate(-90)" font-size="20.0" text-anchor="end" fill="#000" >AURKB</text>
<rect x="1044.1" y="2025.1" width="15.6" height="56.2" fill="#3c5ea8" stroke="#000" stroke-width="2"/>
<line x1="1076.3" y1="2081.3" x2="1076.3" y2="2087.5" stroke="#000" stroke-width="1.8" />
<text transform="translate(1083.7,2091.8) rotate(-90)" font-size="20.0" text-anchor="end" fill="#000" >ANLN</text>
<rect x="1068.5" y="2036.3" width="15.6" height="45.0" fill="#3c5ea8" stroke="#000" stroke-width="2"/>
<line x1="1100.7" y1="2081.3" x2="1100.7" y2="2087.5" stroke="#000" stroke-width="1.8" />
<text transform="translate(1108.5,2091.8) rotate(-90)" font-size="20.0" text-anchor="end" fill="#000" >KLF4</text>
<rect x="1092.9" y="2001.6" width="15.6" height="79.7" fill="#3c5ea8" stroke="#000" stroke-width="2"/>
<line x1="1125.2" y1="2081.3" x2="1125.2" y2="2087.5" stroke="#000" stroke-width="1.8" />
<text transform="translate(1133.3,2091.8) rotate(-90)" font-size="20.0" text-anchor="end" fill="#000" >a-satellite</text>
<rect x="1117.4" y="2055.6" width="15.6" height="25.7" fill="#3c5ea8" stroke="#000" stroke-width="2"/>
<line x1="1165.3" y1="2081.3" x2="1165.3" y2="2087.5" stroke="#000" stroke-width="1.8" />
<text transform="translate(1169.4,2091.8) rotate(-90)" font-size="20.0" text-anchor="end" fill="#000" >RHOA</text>
<rect x="1157.5" y="2041.0" width="15.6" height="40.3" fill="#fff" stroke="#000" stroke-width="2"/>
<line x1="1189.7" y1="2081.3" x2="1189.7" y2="2087.5" stroke="#000" stroke-width="1.8" />
<text transform="translate(1194.2,2091.8) rotate(-90)" font-size="20.0" text-anchor="end" fill="#000" >ECT2</text>
<rect x="1181.9" y="2051.3" width="15.6" height="30.0" fill="#fff" stroke="#000" stroke-width="2"/>
<line x1="1214.2" y1="2081.3" x2="1214.2" y2="2087.5" stroke="#000" stroke-width="1.8" />
<text transform="translate(1218.9,2091.8) rotate(-90)" font-size="20.0" text-anchor="end" fill="#000" >PLK1</text>
<rect x="1206.4" y="2071.4" width="15.6" height="9.9" fill="#fff" stroke="#000" stroke-width="2"/>
<line x1="1238.6" y1="2081.3" x2="1238.6" y2="2087.5" stroke="#000" stroke-width="1.8" />
<text transform="translate(1243.7,2091.8) rotate(-90)" font-size="20.0" text-anchor="end" fill="#000" >PITPNM1</text>
<rect x="1230.8" y="2065.4" width="15.6" height="15.9" fill="#fff" stroke="#000" stroke-width="2"/>
<line x1="1263.0" y1="2081.3" x2="1263.0" y2="2087.5" stroke="#000" stroke-width="1.8" />
<text transform="translate(1268.4,2091.8) rotate(-90)" font-size="20.0" text-anchor="end" fill="#000" >CDC42SE2</text>
<rect x="1255.2" y="2064.5" width="15.6" height="16.8" fill="#fff" stroke="#000" stroke-width="2"/>
<line x1="1287.5" y1="2081.3" x2="1287.5" y2="2087.5" stroke="#000" stroke-width="1.8" />
<text transform="translate(1293.2,2091.8) rotate(-90)" font-size="20.0" text-anchor="end" fill="#000" >KLHL21</text>
<rect x="1279.7" y="2055.6" width="15.6" height="25.7" fill="#fff" stroke="#000" stroke-width="2"/>
<line x1="1311.9" y1="2081.3" x2="1311.9" y2="2087.5" stroke="#000" stroke-width="1.8" />
<text transform="translate(1317.9,2091.8) rotate(-90)" font-size="20.0" text-anchor="end" fill="#000" >KIF20A</text>
<rect x="1304.1" y="2074.4" width="15.6" height="6.9" fill="#fff" stroke="#000" stroke-width="2"/>
<line x1="1336.3" y1="2081.3" x2="1336.3" y2="2087.5" stroke="#000" stroke-width="1.8" />
<text transform="translate(1342.7,2091.8) rotate(-90)" font-size="20.0" text-anchor="end" fill="#000" >RHOU</text>
<rect x="1328.5" y="2058.8" width="15.6" height="22.5" fill="#fff" stroke="#000" stroke-width="2"/>
<line x1="1360.7" y1="2081.3" x2="1360.7" y2="2087.5" stroke="#000" stroke-width="1.8" />
<text transform="translate(1367.4,2091.8) rotate(-90)" font-size="20.0" text-anchor="end" fill="#000" >PAK2</text>
<rect x="1352.9" y="2068.4" width="15.6" height="12.9" fill="#fff" stroke="#000" stroke-width="2"/>
<line x1="1385.2" y1="2081.3" x2="1385.2" y2="2087.5" stroke="#000" stroke-width="1.8" />
<text transform="translate(1392.2,2091.8) rotate(-90)" font-size="20.0" text-anchor="end" fill="#000" >AURKB</text>
<rect x="1377.4" y="2069.9" width="15.6" height="11.4" fill="#fff" stroke="#000" stroke-width="2"/>
<line x1="1409.6" y1="2081.3" x2="1409.6" y2="2087.5" stroke="#000" stroke-width="1.8" />
<text transform="translate(1416.9,2091.8) rotate(-90)" font-size="20.0" text-anchor="end" fill="#000" >ANLN</text>
<rect x="1401.8" y="2075.4" width="15.6" height="5.9" fill="#fff" stroke="#000" stroke-width="2"/>
<line x1="1434.0" y1="2081.3" x2="1434.0" y2="2087.5" stroke="#000" stroke-width="1.8" />
<text transform="translate(1441.7,2091.8) rotate(-90)" font-size="20.0" text-anchor="end" fill="#000" >KLF4</text>
<rect x="1426.2" y="2064.5" width="15.6" height="16.8" fill="#fff" stroke="#000" stroke-width="2"/>
<line x1="1458.5" y1="2081.3" x2="1458.5" y2="2087.5" stroke="#000" stroke-width="1.8" />
<text transform="translate(1466.4,2091.8) rotate(-90)" font-size="20.0" text-anchor="end" fill="#000" >a-satellite</text>
<rect x="1450.7" y="2068.4" width="15.6" height="12.9" fill="#fff" stroke="#000" stroke-width="2"/>
<line x1="811.6" y1="2055.5" x2="1474.5" y2="2055.5" stroke="#000" stroke-width="1.1" stroke-dasharray="3.4,2"/>
</svg>
</body></html>
